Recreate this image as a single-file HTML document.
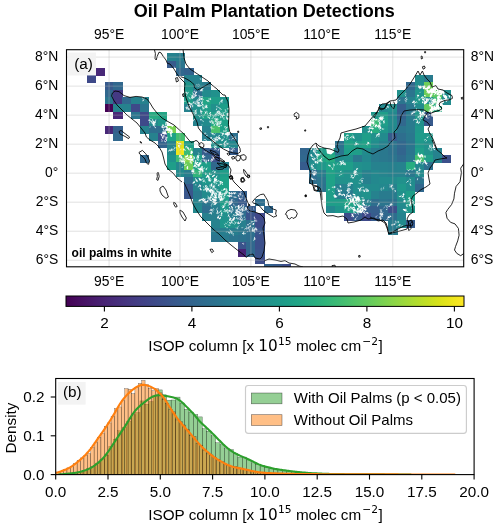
<!DOCTYPE html>
<html><head><meta charset="utf-8"><title>Oil Palm Plantation Detections</title>
<style>html,body{margin:0;padding:0;background:#fff}svg{display:block}</style></head>
<body>
<svg width="500" height="528" viewBox="0 0 500 528" font-family="Liberation Sans, sans-serif" font-size="13.89px" fill="#000">
<rect width="500" height="528" fill="#fff"/>
<text x="264.3" y="16.8" text-anchor="middle" font-weight="bold" font-size="18px">Oil Palm Plantation Detections</text>
<clipPath id="mc"><rect x="66.5" y="49.7" width="397.2" height="217.10000000000002"/></clipPath>
<g clip-path="url(#mc)">
<g shape-rendering="crispEdges">
<rect x="166.69" y="53.47" width="9.17" height="7.55" fill="#26828e"/>
<rect x="175.55" y="53.47" width="9.17" height="7.55" fill="#277e8e"/>
<rect x="166.69" y="60.73" width="9.17" height="7.56" fill="#375a8c"/>
<rect x="175.55" y="60.73" width="9.17" height="7.56" fill="#2b758e"/>
<rect x="95.76" y="67.98" width="9.17" height="7.55" fill="#482878"/>
<rect x="175.55" y="67.98" width="9.17" height="7.55" fill="#31688e"/>
<rect x="184.42" y="67.98" width="9.17" height="7.55" fill="#33628d"/>
<rect x="86.89" y="75.24" width="9.17" height="7.56" fill="#3e4989"/>
<rect x="184.42" y="75.24" width="9.17" height="7.56" fill="#26828e"/>
<rect x="193.28" y="75.24" width="9.17" height="7.56" fill="#26828e"/>
<rect x="414.94" y="75.24" width="9.17" height="7.56" fill="#228b8d"/>
<rect x="423.80" y="75.24" width="9.17" height="7.56" fill="#297b8e"/>
<rect x="104.62" y="82.49" width="9.17" height="7.55" fill="#375a8c"/>
<rect x="113.49" y="82.49" width="9.17" height="7.55" fill="#31688e"/>
<rect x="184.42" y="82.49" width="9.17" height="7.55" fill="#1f958b"/>
<rect x="193.28" y="82.49" width="9.17" height="7.55" fill="#26828e"/>
<rect x="202.15" y="82.49" width="9.17" height="7.55" fill="#297b8e"/>
<rect x="406.07" y="82.49" width="9.17" height="7.55" fill="#31688e"/>
<rect x="414.94" y="82.49" width="9.17" height="7.55" fill="#218e8d"/>
<rect x="423.80" y="82.49" width="9.17" height="7.55" fill="#6ece58"/>
<rect x="104.62" y="89.75" width="9.17" height="7.55" fill="#31688e"/>
<rect x="113.49" y="89.75" width="9.17" height="7.55" fill="#443983"/>
<rect x="184.42" y="89.75" width="9.17" height="7.55" fill="#1f9e89"/>
<rect x="193.28" y="89.75" width="9.17" height="7.55" fill="#2d708e"/>
<rect x="202.15" y="89.75" width="9.17" height="7.55" fill="#228b8d"/>
<rect x="211.02" y="89.75" width="9.17" height="7.55" fill="#21918c"/>
<rect x="397.20" y="89.75" width="9.17" height="7.55" fill="#21918c"/>
<rect x="406.07" y="89.75" width="9.17" height="7.55" fill="#2b758e"/>
<rect x="414.94" y="89.75" width="9.17" height="7.55" fill="#1f958b"/>
<rect x="423.80" y="89.75" width="9.17" height="7.55" fill="#6ece58"/>
<rect x="432.67" y="89.75" width="9.17" height="7.55" fill="#5ac864"/>
<rect x="441.53" y="89.75" width="9.17" height="7.55" fill="#218e8d"/>
<rect x="104.62" y="97.00" width="9.17" height="7.55" fill="#2b758e"/>
<rect x="113.49" y="97.00" width="9.17" height="7.55" fill="#443983"/>
<rect x="122.36" y="97.00" width="9.17" height="7.55" fill="#31688e"/>
<rect x="131.22" y="97.00" width="9.17" height="7.55" fill="#26828e"/>
<rect x="140.09" y="97.00" width="9.17" height="7.55" fill="#26828e"/>
<rect x="184.42" y="97.00" width="9.17" height="7.55" fill="#1f9e89"/>
<rect x="193.28" y="97.00" width="9.17" height="7.55" fill="#23888e"/>
<rect x="202.15" y="97.00" width="9.17" height="7.55" fill="#21a585"/>
<rect x="211.02" y="97.00" width="9.17" height="7.55" fill="#1f9e89"/>
<rect x="219.88" y="97.00" width="9.17" height="7.55" fill="#1f958b"/>
<rect x="397.20" y="97.00" width="9.17" height="7.55" fill="#2b758e"/>
<rect x="406.07" y="97.00" width="9.17" height="7.55" fill="#26828e"/>
<rect x="414.94" y="97.00" width="9.17" height="7.55" fill="#1f988b"/>
<rect x="423.80" y="97.00" width="9.17" height="7.55" fill="#21918c"/>
<rect x="432.67" y="97.00" width="9.17" height="7.55" fill="#3fbc73"/>
<rect x="441.53" y="97.00" width="9.17" height="7.55" fill="#228b8d"/>
<rect x="104.62" y="104.26" width="9.17" height="7.56" fill="#440154"/>
<rect x="113.49" y="104.26" width="9.17" height="7.56" fill="#26828e"/>
<rect x="122.36" y="104.26" width="9.17" height="7.56" fill="#26828e"/>
<rect x="131.22" y="104.26" width="9.17" height="7.56" fill="#3e4989"/>
<rect x="140.09" y="104.26" width="9.17" height="7.56" fill="#2b758e"/>
<rect x="184.42" y="104.26" width="9.17" height="7.56" fill="#26828e"/>
<rect x="193.28" y="104.26" width="9.17" height="7.56" fill="#21918c"/>
<rect x="202.15" y="104.26" width="9.17" height="7.56" fill="#1f9e89"/>
<rect x="211.02" y="104.26" width="9.17" height="7.56" fill="#21918c"/>
<rect x="219.88" y="104.26" width="9.17" height="7.56" fill="#1f9e89"/>
<rect x="379.47" y="104.26" width="9.17" height="7.56" fill="#23888e"/>
<rect x="388.34" y="104.26" width="9.17" height="7.56" fill="#218e8d"/>
<rect x="397.20" y="104.26" width="9.17" height="7.56" fill="#355f8d"/>
<rect x="406.07" y="104.26" width="9.17" height="7.56" fill="#2a788e"/>
<rect x="414.94" y="104.26" width="9.17" height="7.56" fill="#228b8d"/>
<rect x="423.80" y="104.26" width="9.17" height="7.56" fill="#60ca60"/>
<rect x="432.67" y="104.26" width="9.17" height="7.56" fill="#25ab82"/>
<rect x="113.49" y="111.51" width="9.17" height="7.55" fill="#482878"/>
<rect x="131.22" y="111.51" width="9.17" height="7.55" fill="#2b758e"/>
<rect x="140.09" y="111.51" width="9.17" height="7.55" fill="#3e4989"/>
<rect x="148.95" y="111.51" width="9.17" height="7.55" fill="#25ab82"/>
<rect x="157.82" y="111.51" width="9.17" height="7.55" fill="#21a585"/>
<rect x="193.28" y="111.51" width="9.17" height="7.55" fill="#21918c"/>
<rect x="202.15" y="111.51" width="9.17" height="7.55" fill="#1fa287"/>
<rect x="211.02" y="111.51" width="9.17" height="7.55" fill="#1f9e89"/>
<rect x="219.88" y="111.51" width="9.17" height="7.55" fill="#1f9e89"/>
<rect x="370.61" y="111.51" width="9.17" height="7.55" fill="#1f988b"/>
<rect x="379.47" y="111.51" width="9.17" height="7.55" fill="#1f9e89"/>
<rect x="388.34" y="111.51" width="9.17" height="7.55" fill="#23888e"/>
<rect x="397.20" y="111.51" width="9.17" height="7.55" fill="#33628d"/>
<rect x="406.07" y="111.51" width="9.17" height="7.55" fill="#297b8e"/>
<rect x="414.94" y="111.51" width="9.17" height="7.55" fill="#1f988b"/>
<rect x="423.80" y="111.51" width="9.17" height="7.55" fill="#375a8c"/>
<rect x="140.09" y="118.77" width="9.17" height="7.56" fill="#3e4989"/>
<rect x="148.95" y="118.77" width="9.17" height="7.56" fill="#228b8d"/>
<rect x="157.82" y="118.77" width="9.17" height="7.56" fill="#1f988b"/>
<rect x="193.28" y="118.77" width="9.17" height="7.56" fill="#26828e"/>
<rect x="202.15" y="118.77" width="9.17" height="7.56" fill="#228b8d"/>
<rect x="211.02" y="118.77" width="9.17" height="7.56" fill="#25ab82"/>
<rect x="219.88" y="118.77" width="9.17" height="7.56" fill="#1fa188"/>
<rect x="370.61" y="118.77" width="9.17" height="7.56" fill="#3aba76"/>
<rect x="379.47" y="118.77" width="9.17" height="7.56" fill="#1f9e89"/>
<rect x="388.34" y="118.77" width="9.17" height="7.56" fill="#228b8d"/>
<rect x="397.20" y="118.77" width="9.17" height="7.56" fill="#31688e"/>
<rect x="406.07" y="118.77" width="9.17" height="7.56" fill="#297b8e"/>
<rect x="414.94" y="118.77" width="9.17" height="7.56" fill="#21918c"/>
<rect x="423.80" y="118.77" width="9.17" height="7.56" fill="#375a8c"/>
<rect x="104.62" y="126.02" width="9.17" height="7.55" fill="#482878"/>
<rect x="113.49" y="126.02" width="9.17" height="7.55" fill="#355f8d"/>
<rect x="140.09" y="126.02" width="9.17" height="7.55" fill="#26828e"/>
<rect x="148.95" y="126.02" width="9.17" height="7.55" fill="#2e6e8e"/>
<rect x="157.82" y="126.02" width="9.17" height="7.55" fill="#2e6e8e"/>
<rect x="166.69" y="126.02" width="9.17" height="7.55" fill="#7ad151"/>
<rect x="202.15" y="126.02" width="9.17" height="7.55" fill="#26828e"/>
<rect x="211.02" y="126.02" width="9.17" height="7.55" fill="#4ac16d"/>
<rect x="219.88" y="126.02" width="9.17" height="7.55" fill="#1fa287"/>
<rect x="361.74" y="126.02" width="9.17" height="7.55" fill="#21918c"/>
<rect x="370.61" y="126.02" width="9.17" height="7.55" fill="#27ad81"/>
<rect x="379.47" y="126.02" width="9.17" height="7.55" fill="#1f988b"/>
<rect x="388.34" y="126.02" width="9.17" height="7.55" fill="#23888e"/>
<rect x="397.20" y="126.02" width="9.17" height="7.55" fill="#2b758e"/>
<rect x="406.07" y="126.02" width="9.17" height="7.55" fill="#297b8e"/>
<rect x="414.94" y="126.02" width="9.17" height="7.55" fill="#1f988b"/>
<rect x="113.49" y="133.28" width="9.17" height="7.55" fill="#31688e"/>
<rect x="148.95" y="133.28" width="9.17" height="7.55" fill="#26828e"/>
<rect x="157.82" y="133.28" width="9.17" height="7.55" fill="#3c508b"/>
<rect x="166.69" y="133.28" width="9.17" height="7.55" fill="#1fa287"/>
<rect x="175.55" y="133.28" width="9.17" height="7.55" fill="#44bf70"/>
<rect x="202.15" y="133.28" width="9.17" height="7.55" fill="#277e8e"/>
<rect x="211.02" y="133.28" width="9.17" height="7.55" fill="#23888e"/>
<rect x="219.88" y="133.28" width="9.17" height="7.55" fill="#21918c"/>
<rect x="228.75" y="133.28" width="9.17" height="7.55" fill="#2d708e"/>
<rect x="344.01" y="133.28" width="9.17" height="7.55" fill="#1f9e89"/>
<rect x="352.87" y="133.28" width="9.17" height="7.55" fill="#20928c"/>
<rect x="361.74" y="133.28" width="9.17" height="7.55" fill="#1f9e89"/>
<rect x="370.61" y="133.28" width="9.17" height="7.55" fill="#21918c"/>
<rect x="379.47" y="133.28" width="9.17" height="7.55" fill="#228b8d"/>
<rect x="388.34" y="133.28" width="9.17" height="7.55" fill="#365c8d"/>
<rect x="397.20" y="133.28" width="9.17" height="7.55" fill="#2e6e8e"/>
<rect x="406.07" y="133.28" width="9.17" height="7.55" fill="#2a788e"/>
<rect x="414.94" y="133.28" width="9.17" height="7.55" fill="#1e9b8a"/>
<rect x="423.80" y="133.28" width="9.17" height="7.55" fill="#1f988b"/>
<rect x="157.82" y="140.53" width="9.17" height="7.55" fill="#33628d"/>
<rect x="166.69" y="140.53" width="9.17" height="7.55" fill="#25858e"/>
<rect x="175.55" y="140.53" width="9.17" height="7.55" fill="#e2e418"/>
<rect x="184.42" y="140.53" width="9.17" height="7.55" fill="#1f9e89"/>
<rect x="211.02" y="140.53" width="9.17" height="7.55" fill="#21918c"/>
<rect x="219.88" y="140.53" width="9.17" height="7.55" fill="#21918c"/>
<rect x="228.75" y="140.53" width="9.17" height="7.55" fill="#23888e"/>
<rect x="335.14" y="140.53" width="9.17" height="7.55" fill="#2c728e"/>
<rect x="344.01" y="140.53" width="9.17" height="7.55" fill="#1fa287"/>
<rect x="352.87" y="140.53" width="9.17" height="7.55" fill="#1f9e89"/>
<rect x="361.74" y="140.53" width="9.17" height="7.55" fill="#1fa287"/>
<rect x="370.61" y="140.53" width="9.17" height="7.55" fill="#218e8d"/>
<rect x="379.47" y="140.53" width="9.17" height="7.55" fill="#26828e"/>
<rect x="388.34" y="140.53" width="9.17" height="7.55" fill="#2b758e"/>
<rect x="397.20" y="140.53" width="9.17" height="7.55" fill="#31688e"/>
<rect x="406.07" y="140.53" width="9.17" height="7.55" fill="#2b758e"/>
<rect x="414.94" y="140.53" width="9.17" height="7.55" fill="#1f988b"/>
<rect x="423.80" y="140.53" width="9.17" height="7.55" fill="#21918c"/>
<rect x="166.69" y="147.79" width="9.17" height="7.55" fill="#23888e"/>
<rect x="175.55" y="147.79" width="9.17" height="7.55" fill="#f1e51d"/>
<rect x="184.42" y="147.79" width="9.17" height="7.55" fill="#3aba76"/>
<rect x="193.28" y="147.79" width="9.17" height="7.55" fill="#26828e"/>
<rect x="202.15" y="147.79" width="9.17" height="7.55" fill="#365c8d"/>
<rect x="211.02" y="147.79" width="9.17" height="7.55" fill="#375a8c"/>
<rect x="228.75" y="147.79" width="9.17" height="7.55" fill="#365c8d"/>
<rect x="299.68" y="147.79" width="9.17" height="7.55" fill="#32658e"/>
<rect x="308.54" y="147.79" width="9.17" height="7.55" fill="#23888e"/>
<rect x="317.41" y="147.79" width="9.17" height="7.55" fill="#1f9e89"/>
<rect x="326.28" y="147.79" width="9.17" height="7.55" fill="#1fa287"/>
<rect x="335.14" y="147.79" width="9.17" height="7.55" fill="#2b758e"/>
<rect x="344.01" y="147.79" width="9.17" height="7.55" fill="#1f9e89"/>
<rect x="352.87" y="147.79" width="9.17" height="7.55" fill="#1f9e89"/>
<rect x="361.74" y="147.79" width="9.17" height="7.55" fill="#228b8d"/>
<rect x="370.61" y="147.79" width="9.17" height="7.55" fill="#297b8e"/>
<rect x="379.47" y="147.79" width="9.17" height="7.55" fill="#2a788e"/>
<rect x="388.34" y="147.79" width="9.17" height="7.55" fill="#2c728e"/>
<rect x="397.20" y="147.79" width="9.17" height="7.55" fill="#32658e"/>
<rect x="406.07" y="147.79" width="9.17" height="7.55" fill="#2b758e"/>
<rect x="414.94" y="147.79" width="9.17" height="7.55" fill="#1f9e89"/>
<rect x="423.80" y="147.79" width="9.17" height="7.55" fill="#20928c"/>
<rect x="432.67" y="147.79" width="9.17" height="7.55" fill="#26828e"/>
<rect x="140.09" y="155.04" width="9.17" height="7.56" fill="#31688e"/>
<rect x="166.69" y="155.04" width="9.17" height="7.56" fill="#20928c"/>
<rect x="175.55" y="155.04" width="9.17" height="7.56" fill="#3fbc73"/>
<rect x="184.42" y="155.04" width="9.17" height="7.56" fill="#89d548"/>
<rect x="193.28" y="155.04" width="9.17" height="7.56" fill="#1f9e89"/>
<rect x="202.15" y="155.04" width="9.17" height="7.56" fill="#31688e"/>
<rect x="211.02" y="155.04" width="9.17" height="7.56" fill="#3c508b"/>
<rect x="299.68" y="155.04" width="9.17" height="7.56" fill="#31688e"/>
<rect x="308.54" y="155.04" width="9.17" height="7.56" fill="#228b8d"/>
<rect x="317.41" y="155.04" width="9.17" height="7.56" fill="#21a585"/>
<rect x="326.28" y="155.04" width="9.17" height="7.56" fill="#25ab82"/>
<rect x="335.14" y="155.04" width="9.17" height="7.56" fill="#218e8d"/>
<rect x="344.01" y="155.04" width="9.17" height="7.56" fill="#21918c"/>
<rect x="352.87" y="155.04" width="9.17" height="7.56" fill="#2a788e"/>
<rect x="361.74" y="155.04" width="9.17" height="7.56" fill="#23888e"/>
<rect x="370.61" y="155.04" width="9.17" height="7.56" fill="#297b8e"/>
<rect x="379.47" y="155.04" width="9.17" height="7.56" fill="#2a788e"/>
<rect x="388.34" y="155.04" width="9.17" height="7.56" fill="#2b758e"/>
<rect x="397.20" y="155.04" width="9.17" height="7.56" fill="#2f6b8e"/>
<rect x="406.07" y="155.04" width="9.17" height="7.56" fill="#2a788e"/>
<rect x="414.94" y="155.04" width="9.17" height="7.56" fill="#44bf70"/>
<rect x="423.80" y="155.04" width="9.17" height="7.56" fill="#1f9e89"/>
<rect x="432.67" y="155.04" width="9.17" height="7.56" fill="#26828e"/>
<rect x="441.53" y="155.04" width="9.17" height="7.56" fill="#3c508b"/>
<rect x="166.69" y="162.30" width="9.17" height="7.55" fill="#1f9e89"/>
<rect x="175.55" y="162.30" width="9.17" height="7.55" fill="#23888e"/>
<rect x="184.42" y="162.30" width="9.17" height="7.55" fill="#6ece58"/>
<rect x="193.28" y="162.30" width="9.17" height="7.55" fill="#1fa287"/>
<rect x="202.15" y="162.30" width="9.17" height="7.55" fill="#1f9e89"/>
<rect x="211.02" y="162.30" width="9.17" height="7.55" fill="#31688e"/>
<rect x="219.88" y="162.30" width="9.17" height="7.55" fill="#26828e"/>
<rect x="299.68" y="162.30" width="9.17" height="7.55" fill="#365c8d"/>
<rect x="308.54" y="162.30" width="9.17" height="7.55" fill="#218e8d"/>
<rect x="317.41" y="162.30" width="9.17" height="7.55" fill="#1f988b"/>
<rect x="326.28" y="162.30" width="9.17" height="7.55" fill="#1fa287"/>
<rect x="335.14" y="162.30" width="9.17" height="7.55" fill="#1f9e89"/>
<rect x="344.01" y="162.30" width="9.17" height="7.55" fill="#1f9e89"/>
<rect x="352.87" y="162.30" width="9.17" height="7.55" fill="#21918c"/>
<rect x="361.74" y="162.30" width="9.17" height="7.55" fill="#218e8d"/>
<rect x="370.61" y="162.30" width="9.17" height="7.55" fill="#26828e"/>
<rect x="379.47" y="162.30" width="9.17" height="7.55" fill="#26828e"/>
<rect x="388.34" y="162.30" width="9.17" height="7.55" fill="#27808e"/>
<rect x="397.20" y="162.30" width="9.17" height="7.55" fill="#26828e"/>
<rect x="406.07" y="162.30" width="9.17" height="7.55" fill="#27ad81"/>
<rect x="414.94" y="162.30" width="9.17" height="7.55" fill="#23888e"/>
<rect x="423.80" y="162.30" width="9.17" height="7.55" fill="#2d708e"/>
<rect x="175.55" y="169.55" width="9.17" height="7.55" fill="#228b8d"/>
<rect x="184.42" y="169.55" width="9.17" height="7.55" fill="#277e8e"/>
<rect x="193.28" y="169.55" width="9.17" height="7.55" fill="#31b57b"/>
<rect x="202.15" y="169.55" width="9.17" height="7.55" fill="#1f9e89"/>
<rect x="211.02" y="169.55" width="9.17" height="7.55" fill="#21918c"/>
<rect x="219.88" y="169.55" width="9.17" height="7.55" fill="#1f9e89"/>
<rect x="308.54" y="169.55" width="9.17" height="7.55" fill="#2e6e8e"/>
<rect x="317.41" y="169.55" width="9.17" height="7.55" fill="#277e8e"/>
<rect x="326.28" y="169.55" width="9.17" height="7.55" fill="#1fa287"/>
<rect x="335.14" y="169.55" width="9.17" height="7.55" fill="#1f988b"/>
<rect x="344.01" y="169.55" width="9.17" height="7.55" fill="#20928c"/>
<rect x="352.87" y="169.55" width="9.17" height="7.55" fill="#21918c"/>
<rect x="361.74" y="169.55" width="9.17" height="7.55" fill="#26828e"/>
<rect x="370.61" y="169.55" width="9.17" height="7.55" fill="#23888e"/>
<rect x="379.47" y="169.55" width="9.17" height="7.55" fill="#25858e"/>
<rect x="388.34" y="169.55" width="9.17" height="7.55" fill="#26828e"/>
<rect x="397.20" y="169.55" width="9.17" height="7.55" fill="#26828e"/>
<rect x="406.07" y="169.55" width="9.17" height="7.55" fill="#2a788e"/>
<rect x="414.94" y="169.55" width="9.17" height="7.55" fill="#228b8d"/>
<rect x="184.42" y="176.81" width="9.17" height="7.55" fill="#2f6b8e"/>
<rect x="193.28" y="176.81" width="9.17" height="7.55" fill="#228b8d"/>
<rect x="202.15" y="176.81" width="9.17" height="7.55" fill="#1f988b"/>
<rect x="211.02" y="176.81" width="9.17" height="7.55" fill="#1f988b"/>
<rect x="219.88" y="176.81" width="9.17" height="7.55" fill="#1fa287"/>
<rect x="308.54" y="176.81" width="9.17" height="7.55" fill="#2e6e8e"/>
<rect x="317.41" y="176.81" width="9.17" height="7.55" fill="#2b758e"/>
<rect x="326.28" y="176.81" width="9.17" height="7.55" fill="#1fa287"/>
<rect x="335.14" y="176.81" width="9.17" height="7.55" fill="#21918c"/>
<rect x="344.01" y="176.81" width="9.17" height="7.55" fill="#20928c"/>
<rect x="352.87" y="176.81" width="9.17" height="7.55" fill="#21918c"/>
<rect x="361.74" y="176.81" width="9.17" height="7.55" fill="#27808e"/>
<rect x="370.61" y="176.81" width="9.17" height="7.55" fill="#23888e"/>
<rect x="379.47" y="176.81" width="9.17" height="7.55" fill="#228b8d"/>
<rect x="388.34" y="176.81" width="9.17" height="7.55" fill="#228b8d"/>
<rect x="397.20" y="176.81" width="9.17" height="7.55" fill="#21918c"/>
<rect x="406.07" y="176.81" width="9.17" height="7.55" fill="#228b8d"/>
<rect x="414.94" y="176.81" width="9.17" height="7.55" fill="#2b758e"/>
<rect x="184.42" y="184.06" width="9.17" height="7.55" fill="#375a8c"/>
<rect x="193.28" y="184.06" width="9.17" height="7.55" fill="#26828e"/>
<rect x="202.15" y="184.06" width="9.17" height="7.55" fill="#21918c"/>
<rect x="211.02" y="184.06" width="9.17" height="7.55" fill="#21918c"/>
<rect x="219.88" y="184.06" width="9.17" height="7.55" fill="#1fa287"/>
<rect x="317.41" y="184.06" width="9.17" height="7.55" fill="#2c728e"/>
<rect x="326.28" y="184.06" width="9.17" height="7.55" fill="#1fa188"/>
<rect x="335.14" y="184.06" width="9.17" height="7.55" fill="#27808e"/>
<rect x="344.01" y="184.06" width="9.17" height="7.55" fill="#26828e"/>
<rect x="352.87" y="184.06" width="9.17" height="7.55" fill="#218e8d"/>
<rect x="361.74" y="184.06" width="9.17" height="7.55" fill="#228b8d"/>
<rect x="370.61" y="184.06" width="9.17" height="7.55" fill="#228b8d"/>
<rect x="379.47" y="184.06" width="9.17" height="7.55" fill="#23888e"/>
<rect x="388.34" y="184.06" width="9.17" height="7.55" fill="#26828e"/>
<rect x="397.20" y="184.06" width="9.17" height="7.55" fill="#1f988b"/>
<rect x="406.07" y="184.06" width="9.17" height="7.55" fill="#218e8d"/>
<rect x="414.94" y="184.06" width="9.17" height="7.55" fill="#31688e"/>
<rect x="184.42" y="191.32" width="9.17" height="7.55" fill="#39568c"/>
<rect x="193.28" y="191.32" width="9.17" height="7.55" fill="#297b8e"/>
<rect x="202.15" y="191.32" width="9.17" height="7.55" fill="#228b8d"/>
<rect x="211.02" y="191.32" width="9.17" height="7.55" fill="#218e8d"/>
<rect x="219.88" y="191.32" width="9.17" height="7.55" fill="#1f9e89"/>
<rect x="228.75" y="191.32" width="9.17" height="7.55" fill="#2e6e8e"/>
<rect x="237.62" y="191.32" width="9.17" height="7.55" fill="#355f8d"/>
<rect x="326.28" y="191.32" width="9.17" height="7.55" fill="#1f9e89"/>
<rect x="335.14" y="191.32" width="9.17" height="7.55" fill="#27808e"/>
<rect x="344.01" y="191.32" width="9.17" height="7.55" fill="#297b8e"/>
<rect x="352.87" y="191.32" width="9.17" height="7.55" fill="#218e8d"/>
<rect x="361.74" y="191.32" width="9.17" height="7.55" fill="#20928c"/>
<rect x="370.61" y="191.32" width="9.17" height="7.55" fill="#26828e"/>
<rect x="379.47" y="191.32" width="9.17" height="7.55" fill="#297b8e"/>
<rect x="388.34" y="191.32" width="9.17" height="7.55" fill="#297b8e"/>
<rect x="397.20" y="191.32" width="9.17" height="7.55" fill="#21918c"/>
<rect x="406.07" y="191.32" width="9.17" height="7.55" fill="#1f9e89"/>
<rect x="193.28" y="198.57" width="9.17" height="7.55" fill="#25858e"/>
<rect x="202.15" y="198.57" width="9.17" height="7.55" fill="#2b758e"/>
<rect x="211.02" y="198.57" width="9.17" height="7.55" fill="#26828e"/>
<rect x="219.88" y="198.57" width="9.17" height="7.55" fill="#1f9e89"/>
<rect x="228.75" y="198.57" width="9.17" height="7.55" fill="#31688e"/>
<rect x="237.62" y="198.57" width="9.17" height="7.55" fill="#375a8c"/>
<rect x="255.35" y="198.57" width="9.17" height="7.55" fill="#2e6e8e"/>
<rect x="326.28" y="198.57" width="9.17" height="7.55" fill="#1f9e89"/>
<rect x="335.14" y="198.57" width="9.17" height="7.55" fill="#1f9e89"/>
<rect x="344.01" y="198.57" width="9.17" height="7.55" fill="#21a585"/>
<rect x="352.87" y="198.57" width="9.17" height="7.55" fill="#1f9e89"/>
<rect x="361.74" y="198.57" width="9.17" height="7.55" fill="#26828e"/>
<rect x="370.61" y="198.57" width="9.17" height="7.55" fill="#2e6e8e"/>
<rect x="379.47" y="198.57" width="9.17" height="7.55" fill="#2b758e"/>
<rect x="388.34" y="198.57" width="9.17" height="7.55" fill="#2c728e"/>
<rect x="397.20" y="198.57" width="9.17" height="7.55" fill="#228b8d"/>
<rect x="406.07" y="198.57" width="9.17" height="7.55" fill="#1f9e89"/>
<rect x="193.28" y="205.83" width="9.17" height="7.55" fill="#23888e"/>
<rect x="202.15" y="205.83" width="9.17" height="7.55" fill="#2e6e8e"/>
<rect x="211.02" y="205.83" width="9.17" height="7.55" fill="#277e8e"/>
<rect x="219.88" y="205.83" width="9.17" height="7.55" fill="#1f988b"/>
<rect x="228.75" y="205.83" width="9.17" height="7.55" fill="#2b758e"/>
<rect x="237.62" y="205.83" width="9.17" height="7.55" fill="#2f6b8e"/>
<rect x="246.48" y="205.83" width="9.17" height="7.55" fill="#365c8d"/>
<rect x="264.21" y="205.83" width="9.17" height="7.55" fill="#31688e"/>
<rect x="326.28" y="205.83" width="9.17" height="7.55" fill="#23888e"/>
<rect x="335.14" y="205.83" width="9.17" height="7.55" fill="#1f958b"/>
<rect x="344.01" y="205.83" width="9.17" height="7.55" fill="#1f9e89"/>
<rect x="352.87" y="205.83" width="9.17" height="7.55" fill="#1f988b"/>
<rect x="361.74" y="205.83" width="9.17" height="7.55" fill="#355f8d"/>
<rect x="370.61" y="205.83" width="9.17" height="7.55" fill="#355f8d"/>
<rect x="379.47" y="205.83" width="9.17" height="7.55" fill="#31688e"/>
<rect x="388.34" y="205.83" width="9.17" height="7.55" fill="#3c508b"/>
<rect x="397.20" y="205.83" width="9.17" height="7.55" fill="#23888e"/>
<rect x="406.07" y="205.83" width="9.17" height="7.55" fill="#1f988b"/>
<rect x="202.15" y="213.08" width="9.17" height="7.56" fill="#27808e"/>
<rect x="211.02" y="213.08" width="9.17" height="7.56" fill="#27808e"/>
<rect x="219.88" y="213.08" width="9.17" height="7.56" fill="#21918c"/>
<rect x="228.75" y="213.08" width="9.17" height="7.56" fill="#277e8e"/>
<rect x="237.62" y="213.08" width="9.17" height="7.56" fill="#2e6e8e"/>
<rect x="246.48" y="213.08" width="9.17" height="7.56" fill="#3a538b"/>
<rect x="255.35" y="213.08" width="9.17" height="7.56" fill="#3f4788"/>
<rect x="344.01" y="213.08" width="9.17" height="7.56" fill="#3d4d8a"/>
<rect x="352.87" y="213.08" width="9.17" height="7.56" fill="#365c8d"/>
<rect x="361.74" y="213.08" width="9.17" height="7.56" fill="#3e4989"/>
<rect x="370.61" y="213.08" width="9.17" height="7.56" fill="#365c8d"/>
<rect x="379.47" y="213.08" width="9.17" height="7.56" fill="#31688e"/>
<rect x="388.34" y="213.08" width="9.17" height="7.56" fill="#2e6e8e"/>
<rect x="397.20" y="213.08" width="9.17" height="7.56" fill="#26828e"/>
<rect x="211.02" y="220.34" width="9.17" height="7.55" fill="#26828e"/>
<rect x="219.88" y="220.34" width="9.17" height="7.55" fill="#1f958b"/>
<rect x="228.75" y="220.34" width="9.17" height="7.55" fill="#21918c"/>
<rect x="237.62" y="220.34" width="9.17" height="7.55" fill="#27808e"/>
<rect x="246.48" y="220.34" width="9.17" height="7.55" fill="#2c728e"/>
<rect x="255.35" y="220.34" width="9.17" height="7.55" fill="#3d4d8a"/>
<rect x="388.34" y="220.34" width="9.17" height="7.55" fill="#297b8e"/>
<rect x="397.20" y="220.34" width="9.17" height="7.55" fill="#228b8d"/>
<rect x="406.07" y="220.34" width="9.17" height="7.55" fill="#365c8d"/>
<rect x="211.02" y="227.59" width="9.17" height="7.55" fill="#297b8e"/>
<rect x="219.88" y="227.59" width="9.17" height="7.55" fill="#277e8e"/>
<rect x="228.75" y="227.59" width="9.17" height="7.55" fill="#277e8e"/>
<rect x="237.62" y="227.59" width="9.17" height="7.55" fill="#2a788e"/>
<rect x="246.48" y="227.59" width="9.17" height="7.55" fill="#2d708e"/>
<rect x="255.35" y="227.59" width="9.17" height="7.55" fill="#39568c"/>
<rect x="388.34" y="227.59" width="9.17" height="7.55" fill="#297b8e"/>
<rect x="211.02" y="234.85" width="9.17" height="7.55" fill="#2b758e"/>
<rect x="219.88" y="234.85" width="9.17" height="7.55" fill="#297b8e"/>
<rect x="228.75" y="234.85" width="9.17" height="7.55" fill="#2b758e"/>
<rect x="237.62" y="234.85" width="9.17" height="7.55" fill="#2c728e"/>
<rect x="246.48" y="234.85" width="9.17" height="7.55" fill="#2e6e8e"/>
<rect x="255.35" y="234.85" width="9.17" height="7.55" fill="#3c508b"/>
<rect x="237.62" y="242.10" width="9.17" height="7.55" fill="#3a538b"/>
<rect x="246.48" y="242.10" width="9.17" height="7.55" fill="#31688e"/>
<rect x="255.35" y="242.10" width="9.17" height="7.55" fill="#3c508b"/>
<rect x="237.62" y="249.36" width="9.17" height="7.56" fill="#482475"/>
<rect x="246.48" y="249.36" width="9.17" height="7.56" fill="#31688e"/>
<rect x="255.35" y="249.36" width="9.17" height="7.56" fill="#3a538b"/>
<rect x="255.35" y="256.61" width="9.17" height="7.55" fill="#3d4d8a"/>
<rect x="264.21" y="263.87" width="9.17" height="7.55" fill="#33628d"/>
<rect x="273.08" y="263.87" width="9.17" height="7.55" fill="#375a8c"/>
<rect x="281.95" y="263.87" width="9.17" height="7.55" fill="#3d4d8a"/>
</g>
<path d="M144.1 99.2L144.5 98.7L144.7 98.6M142.0 97.3L141.9 97.0L141.5 96.3M143.0 99.2L142.8 98.8M142.8 101.0L143.1 100.8L143.5 100.0L143.8 99.9M149.0 120.5L149.3 120.1M150.3 118.5L149.8 118.2M149.7 123.0L149.5 122.2M166.6 138.0L166.6 137.6L166.0 136.7M165.3 139.1L165.6 139.1L166.7 139.0L166.7 138.2M166.2 138.1L165.8 138.4L166.0 138.8L166.5 139.4M165.1 137.4L166.3 137.4M165.1 131.7L165.4 132.1L164.7 131.8M166.7 126.3L165.4 126.5L164.2 126.2M171.0 133.7L171.0 135.0M178.9 157.0L179.5 156.6L180.1 156.8L179.4 157.5M184.1 163.5L184.5 163.1M196.9 158.4L196.5 157.5M189.8 150.4L189.2 149.3M198.4 156.4L197.3 156.6L197.3 156.3L197.4 155.9M198.8 154.3L199.2 153.8L198.7 153.3L198.5 152.9M203.0 156.2L204.2 156.7L203.9 157.1L203.8 157.6M199.4 165.0L198.2 165.5L197.9 164.7L196.8 164.8M195.7 167.4L196.7 166.8L196.3 166.1M188.8 159.8L189.4 159.6L189.8 160.3L190.2 160.9M184.8 160.2L184.9 160.3L185.0 160.0L185.2 160.2M181.0 161.0L181.6 160.9L182.0 160.8M189.9 157.7L188.9 157.5M192.7 159.2L192.6 160.1M202.4 169.6L202.3 170.9L202.5 171.9M206.3 162.7L206.2 163.2L206.4 163.8M206.0 189.8L206.9 189.4L206.9 189.8M203.5 186.5L203.9 187.3L204.5 188.0M208.7 191.6L209.7 191.0M201.1 172.0L200.7 172.4L199.9 173.3L199.5 173.8M202.7 181.4L203.0 181.7L203.5 181.7M214.7 158.1L213.7 157.8L213.1 157.0L212.0 156.4M213.7 158.8L213.9 159.8M195.8 184.9L195.7 184.8L195.4 185.0M195.8 184.7L195.6 184.9M201.3 161.9L201.0 161.8L200.6 160.6L201.1 160.0M210.2 180.3L209.5 181.0L208.7 180.9M212.0 193.9L212.2 193.7L212.6 193.0M226.0 189.3L226.7 190.1L227.0 190.4M224.1 188.6L223.9 189.0M225.2 189.0L226.2 188.7L226.5 188.7L227.1 189.2M224.0 197.3L224.7 197.2L224.7 197.8L224.7 198.3M207.0 188.8L206.8 188.7M226.2 193.5L226.5 193.5L227.2 193.0L227.6 192.0M208.6 198.3L208.3 197.9L207.2 198.3M208.1 200.5L207.5 200.6M208.4 197.0L207.9 196.0M218.9 184.8L219.0 185.0L218.8 185.0L218.4 184.8M236.0 193.6L236.1 193.4L235.7 193.0L235.0 193.2M242.8 210.1L243.3 209.8M217.2 197.9L216.9 197.8M213.5 198.6L214.0 199.5M212.2 195.5L212.2 195.7M213.0 196.2L213.7 196.7L214.0 196.9L213.5 197.9M238.7 223.6L238.5 223.2L238.6 222.7L238.5 222.4M237.5 223.2L237.1 222.8L237.2 222.6L238.0 222.4M221.9 206.4L222.1 206.2L222.5 205.6M229.8 225.7L229.9 225.4L230.0 225.0M217.7 212.5L217.7 212.7L218.1 213.3M226.0 201.5L226.1 201.6L226.5 201.3L227.2 202.0M241.8 214.2L242.6 214.7L242.9 214.0M220.8 216.0L220.4 215.4L219.9 215.1M219.1 215.4L218.5 216.0L218.3 216.3M231.4 218.6L231.1 218.6M229.5 219.8L230.2 219.5L230.2 219.3L229.5 219.4M215.1 177.7L214.9 178.5M215.5 179.8L215.4 179.4L215.0 178.7M230.1 193.3L230.8 194.1L231.6 194.3L231.9 194.6M214.2 203.0L213.4 202.0L214.1 201.7L213.7 201.1M211.1 186.7L210.2 187.5L209.9 186.2L210.0 184.9M216.1 188.4L215.3 189.2L214.5 190.2M212.7 188.0L212.6 188.2L212.5 189.2M212.9 203.2L212.5 202.9L211.9 203.9L211.6 204.4M233.3 210.2L233.0 209.3L231.9 209.1M229.2 203.2L229.3 203.5M229.0 205.2L228.1 205.4M229.0 202.0L229.6 201.7M234.1 205.7L234.0 205.0L233.9 204.4L233.3 204.2M230.3 203.4L231.1 203.4L231.3 203.4L231.5 202.3M230.6 210.6L231.0 211.1L231.5 212.1M238.9 193.9L240.0 194.0L240.2 194.8M227.6 211.8L227.2 211.3M228.2 214.5L228.5 214.6L228.8 214.5L229.2 214.3M217.3 212.7L217.0 213.0L216.6 213.5L216.8 212.9M239.6 208.0L239.8 207.1L240.0 206.5M236.7 206.3L236.7 206.7L236.3 206.9L235.7 207.4M240.1 194.4L241.2 194.6L241.4 194.9L240.9 195.4M252.8 231.3L252.4 230.9L251.8 230.1M252.9 229.7L252.7 230.1L252.6 230.3M253.2 230.6L253.8 230.6L254.2 229.8L255.1 229.4M255.4 229.0L255.9 228.2L256.4 228.0L256.4 228.6M245.2 210.1L245.5 210.0L246.5 210.0M245.2 210.0L245.4 209.7L246.0 209.1L246.0 208.5M244.3 209.9L244.2 210.9L243.5 210.8L243.3 209.9M249.6 223.5L249.1 223.7L249.0 223.9M240.5 212.1L240.7 212.9L240.3 213.1L239.7 213.2M239.3 210.7L239.2 210.4M247.5 225.2L248.0 224.4M250.3 223.5L249.8 223.6M247.1 231.9L247.9 231.4M245.5 233.3L245.3 233.7M235.5 206.2L235.3 207.1L235.6 207.9M248.7 226.9L249.1 227.0M246.1 226.5L246.8 227.0L246.6 227.4L247.1 227.8M249.5 231.3L249.7 230.4L248.9 229.9M252.7 229.4L252.9 229.3M242.5 209.6L242.3 209.9L242.3 210.1L242.3 210.4M239.3 205.1L238.9 205.8L238.9 206.0M240.3 209.1L239.6 209.1M238.9 219.1L238.8 218.9L238.5 219.0M239.7 215.4L240.1 215.0L239.4 214.4L239.3 213.7M236.4 228.1L236.0 228.0M241.7 227.8L242.2 228.1L242.6 227.6L242.8 227.3M247.5 211.7L248.1 211.7L248.5 212.4M242.1 198.6L242.1 198.2L242.1 197.9M240.3 199.1L240.8 199.3L241.1 199.8L241.1 199.9M241.2 198.8L241.1 198.9M240.9 198.4L240.2 198.5L239.2 198.5L239.0 198.4M237.3 217.2L237.4 217.1M242.5 243.5L242.3 243.3M242.8 243.4L243.7 243.2L243.7 243.6L243.6 244.4M254.9 238.8L254.1 238.7L254.4 239.3L254.0 240.0M254.7 239.5L254.5 239.1L254.4 238.6L254.5 237.7M255.2 239.0L255.1 238.7L254.6 238.7L254.5 238.9M253.9 209.3L253.5 209.1M253.8 208.2L253.5 208.0M252.6 211.1L253.1 211.6M236.6 217.7L236.2 218.0L236.0 218.3M254.7 220.4L254.4 220.4M255.2 220.3L255.3 221.1L255.7 221.3M254.5 221.7L255.0 221.4L255.0 220.7M256.5 220.1L256.7 220.7L256.7 221.5M240.9 206.6L240.4 207.4M241.8 204.5L242.4 204.8L243.0 205.1M235.2 222.8L235.0 222.4L234.6 221.6M238.3 223.2L238.5 223.2L238.7 223.3M227.0 231.8L226.4 232.1L226.2 232.1M228.2 231.9L228.5 232.7L229.1 232.5M231.4 231.9L231.7 231.8L231.5 231.3L231.1 231.2M229.4 232.3L228.8 232.2M245.8 208.8L246.4 208.9L246.4 208.4L246.2 208.6M245.1 208.0L245.3 208.2L245.7 207.9L246.0 207.9M247.8 209.4L247.7 209.3M244.3 208.5L243.6 207.9L243.5 207.7M240.7 220.1L240.8 219.2L241.2 219.3M240.3 218.9L240.1 218.1L239.6 217.4M241.1 217.2L240.3 217.0M241.1 219.4L240.7 219.1M239.7 219.3L239.6 219.1M244.0 217.6L244.4 217.8L244.4 216.9M243.0 219.2L242.4 219.8L242.9 220.6M241.4 220.7L241.5 220.5L241.3 220.0L241.2 219.9M242.3 218.9L242.5 218.5M232.5 233.3L233.4 233.6M231.9 232.9L232.1 232.8L232.2 232.3M233.4 234.0L233.3 234.3L232.7 235.0L233.4 235.5M231.3 233.6L231.6 233.4M231.6 232.3L231.9 231.6L231.9 231.4M226.0 209.9L225.5 210.6L225.3 211.0L224.7 211.3M225.2 209.0L225.0 209.4L224.2 209.8M226.5 210.7L226.1 210.8L225.7 210.9M230.7 203.6L230.5 204.0L230.7 204.2M230.8 204.0L231.3 203.6L231.2 203.0M231.5 202.2L232.2 201.9M230.5 203.8L230.9 203.1L231.0 202.3L230.9 201.6M220.7 198.8L220.2 198.6L219.8 199.1M221.0 199.7L221.4 200.3L220.6 200.4M219.3 199.4L219.0 199.2M233.7 200.1L233.9 200.3M232.1 200.0L231.3 199.7L231.1 199.5M227.8 202.4L228.2 202.4L228.5 202.1L229.1 201.9M227.6 201.7L227.1 201.6L226.8 201.0L226.2 201.2M230.6 201.4L230.4 200.9M227.1 200.8L226.9 201.0M229.3 202.0L229.7 201.9L230.0 202.3M224.9 192.9L225.1 193.4L225.9 193.0M225.1 194.8L224.6 194.0L224.7 193.8M220.3 183.3L220.3 183.1L220.4 182.7M221.5 181.9L221.8 182.3M220.9 183.7L220.4 184.3M220.3 182.4L220.0 182.9M211.0 209.3L211.8 209.4L212.2 209.4M209.9 213.7L209.3 213.0L209.1 213.1M211.6 213.2L211.2 213.1L211.4 212.3M212.5 211.2L212.0 210.5M212.9 212.2L212.6 211.8M226.1 189.5L226.4 189.2M225.6 191.6L225.2 192.3L225.6 192.8L226.2 192.9M226.5 191.2L227.2 191.5L227.7 192.0M226.2 190.3L226.6 190.2M226.7 189.9L226.8 190.8L226.5 191.0L226.5 191.1M226.3 191.0L226.0 191.2M217.8 189.7L217.8 189.5L217.7 189.4M217.1 190.4L216.8 190.9L217.1 191.3L218.0 191.4M213.9 184.2L214.6 183.7M213.6 208.4L213.2 208.7M212.6 209.9L213.4 210.0L213.7 210.0L214.0 209.8M210.5 210.7L210.5 210.9L210.3 211.0L209.8 210.5M211.6 205.0L211.2 205.6L211.4 206.0L211.4 206.2M213.3 204.9L213.2 204.4M228.3 225.1L228.8 225.1L229.6 225.2M224.9 225.0L224.8 224.7L224.2 224.2M228.0 221.5L227.6 222.3M212.6 192.6L213.3 192.4L213.5 192.3L214.2 192.0M211.6 193.4L211.6 193.7L211.5 194.1M210.7 192.3L210.9 192.4L211.2 192.4M211.5 195.7L212.0 195.9L212.5 196.4L213.2 196.3M211.5 197.5L211.5 197.3L212.0 197.5M173.8 149.2L173.8 150.1L174.0 150.2L174.6 150.8M174.5 147.5L174.0 146.7M171.8 149.6L172.2 149.9L172.4 150.3M170.0 149.7L169.9 149.2M171.0 149.8L171.1 149.7L171.6 149.6L172.4 149.3M170.4 150.7L170.8 150.6L170.8 150.2L169.8 150.1M202.8 106.7L202.2 106.8L202.4 106.9M193.3 94.9L193.5 95.0L194.0 94.9M186.6 92.0L185.8 92.6M186.0 92.4L186.2 93.3M192.3 103.5L191.7 103.9M191.3 104.1L190.7 103.4M198.3 86.5L198.1 86.6M198.7 84.3L199.0 84.4L199.4 84.8L199.4 85.2M198.8 104.7L198.6 104.8L198.4 105.7L197.7 105.9M198.8 102.7L198.9 102.9M195.4 102.3L196.3 102.1M196.8 102.9L197.1 103.1L197.4 103.3M194.2 102.0L194.4 102.3L194.6 102.1M195.5 110.8L195.6 111.0L195.5 111.4L195.2 112.0M193.6 112.8L194.3 112.8L194.4 112.0M196.6 92.0L196.4 92.0M196.8 92.0L196.0 92.1L195.6 92.0L195.2 92.0M199.4 102.8L198.4 102.8L199.4 102.8M203.1 107.9L203.2 108.6L203.0 109.1M188.5 109.1L189.0 108.3L189.8 108.1L190.3 108.7M189.3 107.6L189.4 106.9L189.0 106.5L189.3 105.7M187.1 109.6L186.8 109.1L186.4 108.8M187.6 108.0L187.3 108.1L186.8 107.5L186.7 106.9M187.8 107.6L188.0 108.1L188.1 108.3L188.6 108.8M188.8 108.6L189.3 109.0L189.0 109.5M187.2 108.7L186.9 108.2L187.0 107.9M198.8 98.3L198.9 98.1L199.2 97.7L199.5 97.3M188.0 93.0L188.3 92.3L188.4 92.3L188.6 92.3M186.8 94.4L187.3 94.9L186.6 95.3L186.4 95.6M194.7 113.7L195.3 113.1L195.8 113.1M194.6 114.4L193.8 113.9L193.5 113.9M185.4 101.3L185.2 101.0L184.8 100.9L184.5 101.5M190.6 94.8L190.9 95.1M193.7 93.5L193.5 94.2M195.2 92.3L194.6 91.6L194.4 91.1L194.4 90.8M195.4 94.2L194.7 94.7L193.8 94.8L193.3 95.1M202.0 89.9L201.6 90.4L201.3 90.6M202.8 90.9L202.2 90.9L201.4 90.8M202.0 89.8L202.3 90.5L202.4 90.6M195.7 95.8L194.9 95.7L195.0 96.0M192.3 104.8L192.9 105.1L193.0 105.3M191.3 103.6L190.6 103.4L190.0 102.9L189.8 102.8M189.3 102.5L189.3 102.8M191.7 105.0L191.1 104.4M201.7 99.0L201.8 98.8L202.1 98.2L202.7 98.2M199.6 105.4L199.7 105.8L199.7 106.1L200.0 106.5M198.7 103.3L199.4 103.3L199.3 103.5L199.2 103.7M208.2 101.1L208.7 101.2L209.2 101.5M200.5 97.9L200.0 97.9L199.6 97.8M205.5 107.6L205.1 107.1M205.0 106.7L205.0 106.0L205.4 105.2L206.0 104.9M206.6 107.1L206.7 108.0M205.9 111.3L206.5 111.3L206.9 111.0L207.2 111.3M204.3 113.9L204.3 114.3M207.2 113.2L207.2 113.8L207.4 114.3M197.4 100.0L196.7 100.6L196.4 101.2L196.0 101.7M227.8 127.0L227.1 127.5L226.8 127.6L226.0 127.3M225.5 128.5L225.8 128.5M226.9 127.1L226.7 127.7M213.2 123.2L213.9 123.6M212.6 122.4L212.9 122.5L213.5 121.8L213.9 121.8M215.9 113.5L215.7 113.2M217.5 114.2L217.8 115.2L218.1 115.6L218.7 115.5M218.9 123.7L218.1 124.2M218.0 126.0L218.5 126.0L219.5 125.9L219.8 125.9M215.7 139.5L215.5 139.5L214.9 139.9L214.8 140.0M212.6 140.4L211.9 140.4M224.4 137.6L224.1 137.9M224.3 136.4L223.6 136.8L223.7 136.9M219.7 107.9L219.1 108.0L219.0 107.8M217.1 106.2L216.5 106.2L216.6 106.8M213.0 117.4L213.6 117.3M214.0 122.1L213.6 122.3M202.1 124.9L201.9 124.9M218.0 113.1L217.9 112.8M218.4 110.9L218.4 111.2M212.9 134.0L212.7 133.8M214.6 154.6L214.1 154.0L214.5 153.7M211.5 121.1L212.4 121.6L212.9 121.7M212.1 120.3L211.8 121.2L212.0 121.7L212.1 122.1M212.9 122.9L213.2 123.9M205.6 152.1L204.9 151.9L204.1 151.6L204.1 151.3M210.4 99.1L210.5 98.2M210.5 98.9L210.7 99.7M219.1 138.3L219.7 138.6L218.9 138.3L218.6 138.8M218.5 137.8L218.8 138.0L218.8 138.1M218.0 140.2L217.8 139.9L216.9 139.8M219.4 144.5L219.1 145.4L219.3 145.8M219.7 148.1L220.4 147.9L220.4 147.7M218.0 124.0L217.7 123.1M211.9 118.5L212.6 118.4L212.7 118.3L213.0 118.2M216.1 123.1L215.4 123.6L215.2 123.7L214.6 124.3M223.8 119.3L223.7 119.0L223.8 118.7L223.7 118.4M224.0 117.4L223.9 117.8L223.5 118.2L224.2 118.8M222.7 112.0L223.2 112.6M220.6 113.7L220.3 113.8L219.7 114.0L220.2 114.7M221.4 113.7L222.0 113.9L222.5 114.0L221.8 113.5M211.3 120.8L212.1 121.1M210.9 121.2L210.0 121.2L209.6 121.1M216.8 140.9L216.1 140.2L215.5 139.7L215.5 139.5M214.3 141.6L213.6 142.2M214.7 140.8L214.1 140.5L213.5 141.0L212.9 141.1M201.1 112.0L201.7 111.4M201.5 111.3L200.8 110.6L200.6 110.6L200.5 109.7M200.6 111.3L200.9 110.4M201.1 111.1L201.1 111.0M206.1 133.4L205.3 132.9L205.4 133.1L204.4 133.3M205.0 133.9L205.1 133.7L205.4 133.5M204.7 134.6L204.8 134.3M232.9 149.0L233.7 149.2L234.2 149.2L234.6 149.9M232.6 150.5L232.8 150.6L232.5 151.1M214.2 146.4L214.6 145.5L215.0 146.1M211.9 146.5L211.4 147.2L211.0 147.2M208.4 116.9L208.3 117.0L207.9 117.2M210.6 116.1L210.2 115.7L210.0 114.9L210.3 114.6M209.5 117.4L209.6 117.5L209.5 118.4L209.9 119.0M215.5 119.0L216.3 119.0L216.7 119.0M215.8 118.8L215.8 119.0L215.9 118.9M215.8 119.8L215.5 120.4L215.7 120.8L214.9 120.2M216.3 119.7L216.6 120.2L217.2 120.8M221.7 101.3L221.8 101.3L221.9 100.4L221.6 100.2M228.0 133.7L227.9 133.1L227.9 132.9L226.9 132.7M221.8 133.3L222.1 133.3M222.6 133.3L222.1 133.5L221.9 133.9L222.7 134.1M224.4 143.6L224.3 144.3L224.2 144.7L224.2 145.2M218.5 122.3L218.4 121.5L218.7 121.3L219.1 121.4M218.1 123.5L217.2 123.6L217.1 124.1M210.9 114.5L210.8 114.1L210.4 113.3L210.6 112.6M210.5 116.4L210.0 116.0L210.5 115.3L210.7 114.7M208.3 115.4L208.3 115.5L208.5 115.8L209.2 115.7M212.5 115.1L212.8 115.2L213.3 116.1L213.2 116.8M210.8 114.9L210.9 114.6L210.6 114.6M229.1 135.1L228.8 135.4M227.1 143.0L226.7 142.8L226.3 143.4M229.8 139.4L229.0 139.5M201.7 120.1L202.5 120.7L203.4 121.0L203.3 121.6M202.7 117.0L203.4 117.5L203.6 117.6M200.7 116.1L201.2 115.8L201.8 115.5L202.1 115.3M203.3 116.3L203.8 115.6L204.2 115.1M218.5 136.3L219.0 136.8M231.7 139.9L231.7 139.6M228.6 142.9L228.1 143.4L227.9 143.8M212.1 128.1L212.7 128.4L213.5 129.0L213.8 128.6M211.4 128.3L211.6 129.2M221.8 140.8L222.1 140.7L222.2 140.3L222.3 139.6M222.0 140.1L222.1 140.4L222.2 140.6L221.4 140.3M235.1 136.9L235.4 137.0L235.7 136.6M231.7 147.4L231.8 147.7M227.0 137.8L226.8 138.3M226.1 117.1L226.3 117.3L226.6 117.8M226.4 117.9L226.9 117.7L227.0 117.5L226.7 117.2M226.3 116.9L226.5 116.8L226.7 117.0M224.0 112.8L224.3 112.2M224.9 112.3L225.4 112.1L226.2 111.6M225.6 131.2L225.9 130.7M224.0 130.5L224.4 131.0L224.2 131.3M225.8 111.4L226.0 110.9L225.7 110.9L225.2 110.2M228.1 108.7L228.6 108.9L228.7 108.2M225.5 109.7L225.2 109.7M228.2 113.9L228.5 114.1L228.8 113.8L229.6 113.4M174.3 67.0L174.4 67.0L174.7 67.6M319.0 159.8L319.1 159.5M315.1 150.2L314.4 150.9L314.4 151.2L313.2 151.2M315.2 148.7L315.9 149.1L316.1 149.6M323.0 157.5L323.3 157.6M315.1 151.7L315.8 151.4L316.6 151.3L317.1 151.3M314.3 159.1L314.0 159.2M311.9 148.9L312.4 148.7M346.2 140.1L345.8 139.4M346.9 137.1L346.7 136.9M346.2 138.6L346.1 138.5L345.6 138.3M344.0 136.6L343.4 137.4M347.0 134.9L346.8 135.1L347.4 135.4L348.1 134.7M350.5 137.5L350.8 137.8L351.0 138.0M352.8 135.0L353.0 135.5L352.7 136.5M383.4 121.7L384.0 121.9M371.4 125.0L371.4 124.6L371.5 124.3M372.0 126.7L372.9 126.6L373.3 126.8L372.6 127.5M381.9 116.8L382.9 116.5L383.1 116.3L383.7 116.8M361.5 178.7L362.5 178.3L363.3 178.5M360.3 179.6L359.9 179.9L359.7 180.3M358.9 183.1L359.9 183.4L360.5 183.6M333.2 168.8L332.4 168.4L331.9 167.7L331.5 167.7M333.3 167.4L333.6 166.7M342.4 162.0L341.8 161.6M339.2 164.7L339.4 164.6L339.8 164.7L340.7 165.0M352.1 177.4L351.5 177.4L350.7 177.3M354.6 173.4L355.2 174.3L354.8 174.5L354.5 174.2M358.0 174.9L357.7 174.5L357.0 174.3L356.8 174.2M355.9 174.9L356.5 174.6M354.7 176.8L354.2 175.9L354.7 175.0M354.9 174.5L355.3 174.1L356.2 174.1M342.1 163.5L341.5 163.9L341.3 163.8M341.9 174.3L340.9 174.7L339.8 175.0L339.3 175.7M316.0 173.2L316.0 173.9L315.6 174.4L316.1 174.6M315.9 171.8L315.0 172.4L314.7 173.1L314.1 172.9M315.9 171.6L315.4 171.4L315.1 171.3M311.6 165.0L312.0 164.2M357.6 143.6L357.8 144.2L358.2 144.2L358.8 144.1M356.6 144.6L356.6 144.3L356.7 143.5M355.4 143.0L356.2 143.6L356.6 144.1M339.9 195.0L340.5 194.1M334.6 186.9L334.6 187.7L335.1 187.4M354.6 219.4L354.9 219.6L355.9 219.5M356.4 217.3L357.4 216.7M364.3 191.0L364.0 191.2L364.1 191.4M363.1 186.7L363.1 186.9L363.4 187.5L363.7 187.6M351.9 214.2L352.5 214.4M356.6 210.5L356.6 210.2M347.8 202.1L348.2 201.0L348.0 200.6L347.1 199.9M335.0 196.6L335.0 195.8L334.8 195.7L333.7 195.6M360.4 188.1L360.4 188.6L359.5 188.9M340.9 191.4L340.7 191.2L339.7 190.7L339.8 190.2M338.1 189.3L338.3 188.9L337.2 188.7L337.0 189.1M359.6 201.4L359.5 200.9M362.0 209.2L362.9 210.2M355.1 196.6L355.2 195.4L355.0 195.3L354.3 195.0M357.8 199.7L357.0 199.6M352.0 200.8L352.4 200.5L352.7 199.6M353.7 209.9L353.2 209.9M353.4 211.0L354.1 211.2L354.2 212.3M364.4 205.2L364.4 205.4L364.1 205.6M359.2 209.4L359.9 209.6L361.0 209.7M351.3 208.8L351.7 208.9L352.1 208.8L352.8 208.9M366.5 205.2L366.7 205.9L367.0 206.8L366.8 207.7M365.4 205.7L365.0 205.0L363.9 204.7L363.1 205.3M381.8 213.9L381.7 213.5L380.8 213.2L380.4 213.1M382.5 212.0L382.9 212.5M381.7 213.1L382.1 213.7L382.4 214.6L381.7 215.2M377.6 205.8L377.7 205.7M380.9 213.9L380.2 213.5L379.8 214.0M379.7 213.8L379.8 213.5L380.2 213.3L380.8 212.9M380.5 219.6L380.9 218.9L381.4 218.0M380.8 219.4L380.6 219.9M425.3 97.5L425.9 98.4L426.9 98.7M419.0 98.9L419.3 99.3L418.9 99.7M405.3 93.2L406.2 93.7M405.0 94.5L405.3 94.8L405.6 95.8L405.9 95.9M420.0 92.6L420.1 92.3L420.3 92.1M417.7 96.4L417.7 97.0L417.1 97.5L416.9 97.9M414.5 103.7L414.8 102.7M380.7 130.3L380.0 130.9M379.1 135.2L379.2 134.9L378.9 134.1M380.0 126.7L378.9 126.9L378.8 127.1M378.4 133.4L378.8 133.9L378.8 134.3L378.9 134.7M377.8 126.2L378.4 125.8M381.1 128.8L380.5 127.9L380.3 128.0L380.3 128.6M379.7 123.9L380.7 124.0L381.1 123.9M427.1 118.0L427.9 118.2L428.5 118.1L429.1 117.8M416.8 119.8L416.8 119.1M419.0 118.9L419.6 118.0M397.5 101.3L397.4 101.7L397.4 102.6M420.5 155.8L419.9 156.9M419.8 173.8L419.1 173.7L418.4 173.8L417.7 173.9M418.1 174.6L419.0 175.3L419.3 175.7L418.6 175.1M419.1 168.1L419.7 167.9M418.8 170.3L419.7 170.9M412.0 170.6L412.3 169.8L412.5 169.7L412.9 169.6M406.8 172.7L406.7 173.1L405.7 173.5L405.8 174.6M422.4 164.2L422.7 163.3M421.7 161.6L421.0 162.4L420.2 162.9L420.7 163.5M406.8 206.3L407.0 205.4L407.3 204.5L408.4 204.4M410.6 200.3L410.8 200.4M406.5 209.6L405.8 210.2L405.8 211.4M405.7 209.1L405.1 209.7L404.7 209.9M402.7 196.6L402.9 196.3M403.5 198.5L403.7 198.0L404.4 198.5L404.5 199.0M403.5 200.8L403.7 201.6L404.1 200.8M367.1 189.2L366.2 189.2L366.2 189.0M392.4 188.0L391.8 188.7L391.9 188.9L392.0 188.9M392.3 188.7L392.7 188.6L393.2 188.7M392.4 189.6L393.2 189.3L393.9 188.5M392.2 184.8L391.4 185.1L390.5 185.1L389.6 184.9M390.7 186.4L390.4 187.0L389.6 186.9M383.1 189.1L383.8 188.6L383.5 187.7L383.8 187.1M381.1 189.5L381.3 190.2M381.7 188.3L381.6 188.1L381.0 188.4M396.8 221.9L397.1 221.9L398.2 222.1M396.3 222.7L396.2 222.7L395.3 222.1L395.4 221.1M387.2 207.1L387.4 207.5L386.8 207.6M384.5 207.2L383.8 207.8M387.9 205.6L388.6 206.5M382.9 213.2L382.3 213.7L382.1 213.7M380.4 213.9L381.1 213.9L380.9 214.3L380.6 214.6M380.8 211.2L380.7 210.4L380.3 209.4M381.3 211.4L381.2 211.9L381.7 212.2M390.3 204.7L390.9 204.1M395.2 223.2L394.8 224.0M392.5 224.8L393.0 224.0M391.8 224.4L391.6 224.9L391.6 225.3L391.8 225.8M399.7 224.6L399.3 224.6L398.9 225.0M397.2 226.4L396.6 226.8L396.4 226.8M399.3 225.6L399.5 226.1L399.8 226.1M431.6 149.7L431.6 150.3L431.8 150.4L432.0 150.7M431.2 147.8L431.2 147.2L431.4 146.6L431.7 146.3M431.0 145.2L431.1 145.6M431.1 149.0L431.6 148.3L432.3 147.9L432.7 147.2M434.1 149.5L434.7 149.7M430.1 150.5L430.3 150.6M431.7 135.5L431.9 136.2L432.3 137.0L432.4 137.4M430.7 135.8L431.5 136.0M431.9 133.5L432.5 133.3L433.2 133.5L433.4 133.6" fill="none" stroke="#fff" stroke-width="0.5" stroke-linecap="round" stroke-linejoin="round"/>
<path d="M143.4 100.8L143.0 100.3M142.7 97.9L143.0 97.9L143.8 97.7L144.3 97.6M155.3 122.9L155.3 122.1M149.9 127.1L150.2 127.0M153.2 125.5L153.9 125.3L154.6 125.6L155.3 125.0M155.2 121.5L155.5 121.0L155.8 119.9M150.5 120.8L150.3 120.9L149.6 120.7L149.4 119.6M149.0 120.6L148.9 120.1M152.7 120.6L152.9 120.0L152.6 119.4L152.0 118.9M164.5 135.3L164.9 134.9M162.9 132.5L162.9 131.5M161.7 139.6L162.0 140.1L162.1 140.7L162.0 141.5M167.0 137.4L167.4 137.3M165.3 139.3L165.2 139.1L165.5 138.8M171.6 131.0L171.5 131.8L171.6 132.9M162.2 126.8L162.2 127.1L162.1 127.4L161.8 127.3M166.5 127.9L166.2 127.5L166.0 126.4L166.5 126.3M170.8 131.1L171.7 131.9L172.0 132.6M164.0 127.1L165.2 127.1M178.1 143.8L178.3 143.3L178.1 143.0L177.5 142.5M184.7 149.5L184.9 149.9L185.4 150.4M181.0 149.2L180.3 150.0M179.9 154.9L179.3 155.8L179.4 156.6L180.3 156.7M180.0 155.3L179.5 155.4M178.9 145.4L178.3 145.9M190.8 161.5L191.0 162.1L191.4 163.0L191.4 163.5M185.2 158.9L185.0 159.0L184.0 159.8M179.6 161.7L179.9 161.3M187.0 158.4L186.5 159.2M188.7 149.8L188.5 149.1L187.8 148.4L186.8 147.8M202.4 168.9L203.7 169.1L203.9 169.0L204.3 167.9M198.7 157.7L198.2 157.6L197.8 158.2M193.9 170.0L194.0 168.9L192.8 169.6L191.8 170.4M193.7 172.5L194.3 173.4L194.9 173.1L195.1 173.1M204.9 159.4L204.4 159.9L204.7 160.7M202.1 159.7L202.0 160.0M203.8 156.0L204.4 156.4L204.9 156.3L204.9 156.7M199.9 162.9L199.8 162.6L199.8 162.4M194.5 165.1L195.4 165.7M187.5 156.7L188.5 157.4L188.9 157.2M183.5 159.0L182.8 159.3L182.7 158.1M183.6 158.3L183.8 158.3M190.9 159.0L191.0 159.3L191.3 159.6L191.0 160.0M181.2 158.5L180.9 159.5L180.9 159.6L181.0 159.3M210.7 174.5L211.5 174.3M206.0 162.1L205.7 160.9L206.1 160.3L206.1 160.0M200.6 180.5L201.1 180.3L201.5 180.2M199.2 171.6L199.4 171.6L200.0 171.9L200.7 171.6M202.4 171.9L202.4 171.2L202.7 170.7M199.0 171.4L199.4 172.4L199.7 173.3L199.3 174.3M212.8 171.6L213.5 170.7M204.4 180.0L203.9 181.0L203.2 181.4L203.3 180.7M204.7 181.4L205.3 182.2M211.1 191.5L210.0 191.0M213.7 158.0L212.8 157.5M212.4 160.6L211.8 160.9M218.4 191.6L218.2 192.2L218.3 193.1M212.3 190.9L212.3 190.7M214.2 193.3L213.4 193.6L212.6 193.6M213.6 192.3L212.9 192.0L212.7 193.0L211.6 192.8M222.3 190.5L222.1 190.6L221.6 190.3M224.6 188.4L224.7 189.2L224.5 189.5L223.5 190.1M224.6 195.9L224.9 195.3M207.1 190.4L207.0 190.6L206.3 190.2M216.2 199.4L215.8 199.1L215.6 198.8M214.7 194.0L215.0 193.8L214.9 193.6L214.5 193.0M215.4 200.2L215.1 199.9L215.2 199.2L215.3 199.6M225.6 193.1L226.2 193.6L226.4 193.2L226.2 192.2M225.0 195.1L224.0 195.7L223.7 196.5M229.0 192.6L229.7 193.4L230.8 193.3L231.5 192.6M210.4 198.6L210.1 198.5L209.4 198.0L208.6 197.3M209.1 197.7L209.7 198.3L209.9 198.1L209.9 197.8M209.2 199.5L209.0 198.3L208.4 199.1M240.9 212.8L241.4 212.6L241.7 212.7M239.5 209.3L240.4 209.7L241.3 209.6M213.2 199.0L213.2 199.6L213.2 199.8M212.4 198.6L212.7 199.2M210.4 196.0L211.0 196.2L211.4 197.1M240.7 221.9L240.7 221.6L241.3 221.0M237.9 223.7L237.8 223.5M234.1 224.1L233.8 223.8M232.2 221.1L232.2 221.3L231.4 221.7L231.4 222.3M216.7 209.3L216.9 208.5L217.4 208.1M236.0 212.0L235.5 212.5L235.2 212.8M240.8 216.0L239.9 215.4M241.2 213.9L241.4 214.2L242.3 213.7L243.1 213.9M230.7 219.1L230.5 220.2L230.6 220.3L231.5 220.5M230.6 218.3L229.8 217.5L229.9 217.9L230.4 218.8M230.0 219.1L229.9 219.6L229.3 219.9M230.8 218.8L229.9 218.2M230.4 219.9L230.0 219.9L229.4 220.0L230.0 220.8M238.6 215.0L238.7 215.1M236.6 212.4L236.4 212.3L236.3 212.6M200.3 187.0L199.8 185.8L198.7 185.9L198.3 187.0M216.0 192.6L216.0 193.1L216.6 193.7M216.8 195.1L216.6 195.1L216.4 195.3M206.0 187.8L205.6 188.1L205.0 188.5M214.8 201.1L214.9 200.0L214.3 200.0L214.0 199.9M214.5 187.4L214.3 187.8L214.1 188.5M214.9 202.5L214.9 202.3M214.5 202.3L214.4 201.4L214.2 200.4L214.1 200.1M201.8 199.7L201.5 199.6M201.7 199.3L202.6 199.0L203.5 198.7M219.7 193.8L220.0 194.0M219.7 194.6L220.3 195.4M219.9 192.6L219.8 193.6L220.2 193.6L221.0 193.2M227.3 209.6L226.9 209.8L226.7 210.5L225.9 211.1M229.7 211.1L230.3 211.8L230.8 211.9M231.7 203.2L232.2 202.5M230.0 210.8L229.8 211.2L229.0 211.8M239.2 196.3L238.9 196.4M228.1 216.2L228.9 215.7L229.5 216.5L229.7 216.8M220.4 211.6L220.7 210.7L221.5 210.8L221.4 211.0M232.5 219.4L232.9 220.3L232.8 220.6L232.0 220.5M233.6 218.7L233.3 218.9L232.7 219.7M238.9 209.3L238.7 208.7L238.6 207.9M238.5 207.7L238.4 207.6M240.0 193.7L240.7 193.5L241.1 192.6L240.5 191.7M253.1 229.9L253.1 230.2M254.9 229.5L254.6 229.0M254.3 229.4L254.1 229.3M255.8 229.8L256.3 229.7M256.8 230.0L256.8 230.2M256.1 229.6L256.9 229.6M247.7 224.5L248.1 224.9L248.5 224.9M250.5 226.3L250.1 226.7M249.8 227.0L249.3 226.9M239.0 214.2L238.8 214.3L238.1 213.7L237.5 213.1M247.6 228.1L247.9 227.5L248.7 227.6L249.0 227.1M246.6 228.0L246.2 228.5L245.3 228.7L244.7 229.1M244.8 233.7L244.5 233.6L244.2 233.8M243.3 234.0L243.2 233.8L243.2 233.6M242.6 233.5L242.9 233.4L243.1 233.3L243.4 233.4M243.4 233.6L243.6 234.1M252.0 223.0L251.9 222.8M253.0 224.7L253.0 224.4L253.6 224.3L253.8 223.6M253.4 221.7L252.9 221.2L252.6 221.6L251.6 221.6M246.3 198.5L245.7 197.7M245.3 198.5L245.2 198.1M232.1 208.4L232.2 208.3M246.5 229.0L247.0 229.0M252.4 228.7L252.4 228.5L253.0 228.2L253.2 227.4M259.7 233.5L260.2 232.9L260.4 232.9M253.4 231.1L253.2 231.0L252.6 230.8L252.3 230.8M243.8 204.2L243.4 204.6L243.7 205.0L243.9 205.4M239.0 207.3L239.4 206.9L239.8 207.0M240.4 214.2L240.6 214.2L241.3 213.6M241.0 215.6L241.3 214.8L241.2 214.6L241.0 214.5M237.7 227.6L237.6 228.1L237.7 228.8M249.0 209.9L248.8 209.7L248.4 208.9M246.6 208.7L246.6 207.9L246.4 207.6M242.3 196.0L242.9 195.9M232.5 216.3L232.6 216.2L232.8 216.3M231.3 213.0L231.6 212.3L231.5 211.9M254.0 239.8L253.8 240.2M254.8 238.2L254.7 237.8L254.5 237.3M235.9 222.2L235.8 222.5L235.5 223.1L235.0 223.8M238.5 223.4L238.3 222.8L238.6 222.5L238.5 221.9M242.2 207.2L241.8 206.5M240.9 206.3L241.0 206.0L241.5 206.0L241.5 205.5M230.1 233.1L229.6 233.5L229.1 232.7M230.7 232.2L230.4 231.5L230.5 230.7L229.9 230.0M243.4 208.3L243.1 208.5L243.1 208.8M241.6 217.6L241.5 217.1L241.3 216.9L241.3 216.6M240.7 218.5L240.3 219.2M241.8 220.0L241.8 219.8M245.2 219.2L244.7 219.5M224.8 209.9L224.6 209.6L224.4 209.5M225.7 212.0L226.3 211.3M227.2 210.3L227.7 210.2M230.5 203.3L230.1 204.0L229.6 204.0L229.6 204.3M229.5 203.3L229.9 203.2L230.4 203.2L230.7 203.6M221.2 199.2L221.0 199.5M221.7 199.6L222.6 199.8L223.1 200.0L223.2 199.8M220.9 199.2L220.6 199.9L220.3 200.4L220.0 201.1M231.6 200.7L231.7 200.1L232.0 199.8L232.1 199.3M232.3 202.2L231.8 201.5L231.1 201.5M225.0 194.4L224.9 194.6L224.8 194.6M223.9 193.7L224.5 193.5L225.1 193.4M222.5 193.4L223.3 193.7L223.0 194.2L222.8 194.4M224.9 193.9L224.6 193.6M220.9 183.9L220.1 184.2L219.9 184.3M222.1 183.6L222.4 183.8L222.6 184.6M210.1 212.9L210.8 212.6L211.5 213.1L211.5 213.3M211.3 214.1L211.0 213.5L210.9 213.3L210.4 212.9M226.2 192.0L226.9 192.1L227.2 192.0L227.3 191.8M215.2 188.4L215.5 189.2L215.8 189.6L216.4 190.0M215.1 182.0L215.0 182.6L215.2 182.7M216.8 183.1L217.1 183.2L216.7 183.6L216.0 184.0M210.5 210.0L210.6 209.5L211.4 209.7M211.9 210.3L211.4 210.3L211.4 210.5M227.1 227.4L227.1 227.9M226.7 224.0L226.4 223.7L226.3 223.5L225.8 223.3M211.3 194.5L212.0 194.3L212.2 194.2M211.6 194.2L212.0 194.4L212.7 194.6M174.2 148.6L174.6 148.4M175.7 147.8L176.4 147.8M169.6 150.5L168.7 150.6L168.5 151.2M171.7 148.9L171.7 149.3L172.0 149.7M185.4 92.0L185.7 92.5L185.7 92.7L186.1 93.1M196.8 84.8L197.2 84.9M196.9 103.0L197.4 102.7M198.4 104.0L198.6 103.2L198.8 102.7L199.1 102.2M200.8 79.1L200.2 78.9M192.0 103.7L191.3 104.3L190.6 104.6M190.5 108.7L190.0 109.5M187.9 106.2L188.1 105.3M192.2 106.1L192.6 106.0L192.7 106.9M193.5 120.0L193.4 121.1L192.7 121.5M189.9 99.0L189.6 98.2L189.4 97.8L188.7 97.0M192.0 98.2L192.1 97.2L191.8 96.3L191.8 95.9M191.2 98.1L191.6 97.7L191.5 97.3M195.5 93.6L195.1 94.5L195.2 94.1L195.5 93.6M197.9 103.0L198.2 102.4L197.9 101.4M198.0 103.2L198.1 102.3M186.4 108.5L186.5 108.1L187.5 108.0M187.1 107.5L186.5 107.6L186.1 107.5L185.9 107.5M200.0 97.4L199.6 97.2L199.4 96.5L199.1 95.6M195.6 112.7L195.8 113.6M196.1 113.5L195.9 114.0M194.1 91.6L194.4 91.9M202.0 89.6L201.9 89.1L202.3 88.5L203.1 88.5M201.4 89.8L201.7 89.1L201.0 88.5L200.2 88.3M200.7 90.4L201.3 90.5L201.9 89.9M201.4 89.9L200.7 90.2L200.4 91.0M196.0 94.9L196.3 95.0M191.8 105.1L192.0 105.4M192.5 96.9L192.4 97.1L192.1 97.5M193.9 96.5L193.3 96.8L193.2 97.6M200.8 96.4L200.7 96.5M201.9 99.5L202.4 99.9L203.0 99.6L203.3 99.6M203.1 105.1L203.2 105.1M201.2 105.5L201.6 105.6M198.2 106.0L198.0 105.4L197.6 105.2L197.0 104.6M200.6 105.2L199.9 105.2L199.4 106.1M201.8 102.8L201.6 103.0L201.9 103.4M202.7 104.8L202.1 104.9M200.5 105.9L199.6 106.0L199.2 106.1M208.5 100.3L207.8 100.5M198.8 100.1L199.2 99.9L200.0 99.9L200.9 99.6M205.8 106.8L206.3 106.7M206.5 106.6L206.1 106.6L205.3 107.0L204.9 107.9M197.8 99.8L197.9 99.6M223.5 131.0L223.7 130.9L223.8 131.2M226.2 128.7L226.1 128.8L226.0 129.3M224.4 127.0L225.0 126.9L225.7 126.7L226.3 127.2M221.3 125.5L221.2 125.9M211.7 123.0L211.9 123.3L212.7 122.9M216.7 115.0L216.0 114.6L215.6 114.5L215.0 114.4M216.4 116.1L216.3 116.2L216.0 116.3M215.4 115.1L215.1 115.8L214.8 115.9L214.0 115.9M215.7 114.6L216.0 114.1L216.1 113.9L216.5 113.5M218.3 124.3L217.4 124.8L217.0 125.0L216.2 124.7M220.3 123.5L220.1 124.1L219.6 124.5M216.4 138.0L216.4 137.0L216.6 136.6M214.4 141.6L214.6 141.3L214.8 141.5M212.1 141.2L212.1 141.5L212.4 141.5M227.5 134.3L227.4 134.7L227.7 134.1L227.9 134.1M225.7 134.2L226.6 134.4L227.5 134.7L227.7 134.7M219.8 108.8L220.7 108.7L221.2 109.5M219.8 102.5L220.3 101.7L220.8 100.9M218.0 107.1L218.1 107.4M215.5 121.0L215.6 121.9L216.3 121.9M219.2 112.8L219.1 112.4L219.2 111.8L219.6 111.0M216.6 112.1L217.0 111.8L217.9 111.6L218.7 111.2M219.1 111.4L219.3 112.1L219.5 112.3M220.2 112.7L219.8 113.0M218.5 113.8L218.1 113.5L217.9 113.0M214.4 135.0L214.7 134.4L215.1 133.9M213.2 133.5L213.5 133.7L213.7 134.3M212.5 134.0L212.5 133.6M215.0 155.4L215.8 155.7L216.5 156.4M208.9 98.9L209.3 99.0L210.1 99.1L210.5 99.3M219.3 138.1L220.0 138.2L220.6 139.0M216.0 148.9L216.4 149.2M216.8 122.9L217.6 122.9L217.6 123.3M223.5 115.7L223.7 114.9L223.5 114.5L223.5 113.7M220.6 114.7L220.4 114.5L220.4 114.1M209.9 121.7L210.2 122.3M201.3 112.7L201.5 112.8L201.5 113.4L201.1 113.5M201.4 111.6L201.6 111.7L201.9 111.4L202.2 111.8M224.8 145.8L224.6 145.8L224.4 146.7L224.3 146.7M206.1 136.0L206.2 135.8L207.0 135.4L207.4 135.3M231.1 150.6L231.8 150.2M216.9 147.1L216.0 146.8L215.8 146.0M211.3 147.7L210.6 147.9L210.0 148.0M217.3 118.3L217.3 118.5M222.2 102.4L221.5 101.8M221.8 101.9L222.0 101.8L222.1 101.3L222.4 100.8M226.7 118.6L227.5 118.5L228.2 118.5L228.8 117.9M227.6 119.1L228.2 118.3L228.4 118.4L229.1 118.0M203.7 140.0L203.9 139.8L204.7 139.5L205.6 139.7M226.4 131.0L226.4 130.7L225.7 131.0L224.9 131.1M227.1 132.9L227.7 133.2L228.3 132.9L228.6 132.9M225.3 134.0L225.5 134.1M226.3 133.2L225.8 133.8M222.5 133.8L222.8 133.5L223.2 133.9M220.8 132.7L221.2 132.5L221.5 132.2M225.1 142.5L225.8 141.9L226.0 140.9L226.2 140.7M224.6 142.2L224.5 143.3L224.4 143.5L223.8 143.6M220.6 121.8L220.5 121.2L220.5 121.0L220.9 120.8M219.4 121.9L218.6 121.9L217.9 122.4L217.1 123.0M221.7 122.0L221.1 121.8L220.7 121.9M207.3 113.0L207.3 112.9L206.6 112.3L206.6 112.1M199.8 116.9L199.8 116.6L199.2 116.1L198.7 115.7M219.6 135.6L218.9 135.5L218.6 135.2M234.3 137.5L234.4 138.4L234.6 139.1M234.5 139.3L234.6 139.4L235.2 140.0L235.5 140.5M233.2 148.2L233.6 148.3L234.0 147.9L234.3 147.5M232.1 148.9L232.5 149.7L232.8 150.2L232.7 150.3M210.7 127.8L211.0 126.9M211.7 127.3L211.7 127.2M227.5 133.7L228.0 133.9L228.2 134.0L228.4 134.8M228.1 134.7L228.4 134.2M231.9 136.0L231.7 136.2M227.8 144.0L227.7 143.4M224.7 141.9L225.3 141.5L225.7 141.2L225.8 141.9M225.4 145.0L224.9 144.3M215.8 138.1L216.2 138.4M215.3 139.0L215.1 138.3L215.1 138.0M215.6 139.4L215.3 138.8M215.6 140.3L215.8 141.1L216.0 141.4L215.6 141.6M227.4 132.9L227.9 133.3M227.2 133.7L226.7 133.0L226.1 133.8L225.8 134.1M229.7 146.6L229.8 146.8M229.9 149.2L229.8 149.7L229.9 150.5L230.2 150.9M226.9 117.5L226.9 117.2M228.0 109.4L227.8 108.9L227.8 108.6M226.5 113.9L226.8 114.3L226.9 114.2L227.0 114.4M227.6 115.1L228.2 115.1L228.4 115.1M227.5 114.5L227.9 114.4M227.5 113.3L227.1 113.3M227.8 113.5L228.4 113.4L229.0 113.5M320.2 160.2L321.5 160.7L321.9 161.2L322.0 161.9M314.6 149.7L313.8 150.0L313.5 149.9M317.6 154.1L317.5 153.9M316.3 155.6L316.6 155.3L316.5 155.1L317.1 154.6M313.8 157.3L314.6 158.0L314.1 159.0L314.1 160.4M317.3 158.8L317.2 157.7L316.9 157.0M315.3 158.5L315.1 159.1M319.3 161.2L319.9 161.1L320.6 161.7L321.5 161.5M317.2 163.3L317.5 162.7L317.4 162.1M349.8 138.2L350.5 137.4L351.0 136.8L351.7 136.9M345.6 138.1L345.3 137.9L345.2 137.3L345.8 137.0M345.3 137.1L344.4 137.8M353.1 137.1L353.6 137.8L354.6 138.2M372.8 117.6L373.6 118.3L373.7 118.6M374.6 119.6L374.6 119.1L374.5 118.9L373.5 118.2M381.2 118.1L380.7 118.0M371.5 126.9L370.5 126.4M371.1 131.7L371.9 132.1L372.0 132.6L371.6 133.0M373.6 128.6L373.1 128.6L372.4 129.0M375.6 115.5L375.1 115.8M372.2 121.0L371.9 120.0L371.1 118.9L370.7 118.1M371.8 122.5L371.4 122.6L371.8 123.2L371.8 123.4M355.1 172.6L354.9 172.2L354.2 171.5M356.8 169.6L356.4 169.6L355.9 170.0L355.9 170.3M362.2 180.6L361.9 181.6L362.2 182.4M338.0 163.6L337.4 164.1L337.1 164.3M343.0 163.8L343.7 164.7L343.9 164.9L343.9 164.6M348.9 185.6L348.3 185.4L348.5 184.8L348.6 184.6M349.1 182.9L349.3 183.9L349.6 184.5M351.3 175.7L351.1 175.0M355.6 173.0L355.8 172.8L356.3 171.9L356.3 171.4M343.5 162.3L343.1 162.8M343.4 163.2L343.7 163.6M343.0 162.0L342.7 161.5L343.0 160.5M314.2 175.6L314.3 174.9L314.2 175.0M314.8 179.4L315.2 179.6M312.5 170.7L312.9 170.8M316.4 172.4L316.0 172.2L315.7 172.7L315.5 173.6M312.2 168.6L312.0 168.6M313.2 168.1L312.8 168.1M355.7 142.5L355.9 142.4L356.2 142.2M367.8 142.6L368.6 142.8L368.8 143.4M346.8 194.9L347.5 194.1M348.8 192.8L347.7 193.3M340.5 193.0L339.6 193.2L338.9 193.6L338.8 194.1M338.5 194.9L338.9 194.9L339.5 194.8L339.3 193.8M333.8 186.9L334.9 186.8M334.6 186.8L334.7 187.5M353.2 216.9L353.5 216.8L353.5 216.1L353.1 216.1M355.5 218.4L355.7 218.9L355.6 219.1M366.2 190.8L366.1 190.2M348.5 185.5L347.7 185.1L347.9 184.5L348.6 183.6M348.5 186.8L348.1 186.8L347.8 186.7M353.5 213.0L354.6 213.1L355.0 213.2L355.9 213.8M348.1 204.8L347.9 204.9M361.8 190.0L361.7 190.3L362.0 190.3M360.2 189.8L360.7 189.7M358.5 188.5L358.0 188.5L358.0 188.2M349.3 190.9L349.1 190.6L348.4 191.0M349.3 190.1L349.9 190.0M349.4 188.9L349.2 188.8L348.5 188.7L347.4 188.9M361.9 197.5L362.2 197.9L363.2 197.8M333.1 187.8L332.7 187.0L332.2 187.2M361.5 208.5L362.7 208.3L363.2 207.3M355.4 210.7L354.7 210.0M359.3 200.2L359.9 200.5L360.8 200.7L360.9 200.2M354.2 205.0L354.0 204.1L353.9 202.9L354.1 202.0M358.2 212.0L359.1 211.7L360.3 212.4L360.6 212.6M354.1 210.0L354.5 209.1L354.4 207.9M349.4 196.4L349.0 196.3M359.8 207.3L359.5 205.9L359.3 205.7M365.5 207.6L365.4 207.0M365.0 207.3L364.7 207.3M353.5 199.9L353.9 201.2M348.7 207.0L348.5 207.6L348.2 208.9L348.5 208.6M353.3 202.5L353.5 202.8L353.8 203.7L354.4 204.3M362.4 200.5L362.5 199.7L363.5 199.3L364.3 199.4M369.7 201.0L370.0 201.3L370.5 201.4L370.9 201.2M382.5 213.6L382.8 214.5M382.2 215.0L382.7 215.1M377.7 205.8L378.0 205.5L378.3 204.6M380.8 219.6L380.6 219.5L380.4 218.8M364.9 213.2L364.7 213.4L364.5 213.5L364.7 213.9M365.9 214.3L365.3 215.3M367.1 212.8L366.5 212.7L366.1 212.9L365.8 212.9M446.5 100.0L446.5 101.4L446.4 101.7M430.1 114.1L429.8 114.6L428.9 114.7L428.9 115.3M432.0 114.3L432.0 114.8L431.9 115.2L432.3 116.6M432.4 112.9L433.2 114.1M439.9 109.6L439.3 109.2L439.1 108.1L438.3 107.8M437.1 109.8L436.5 110.0M422.7 113.8L423.1 113.7L423.4 113.4L423.2 112.3M422.5 116.3L422.2 116.3L421.9 116.4L421.9 116.2M423.9 112.9L424.0 112.5L425.0 111.6L424.6 110.6M445.3 97.2L444.8 96.9L445.7 97.8L445.8 98.7M432.0 102.0L431.5 102.7M433.4 102.7L433.1 102.7M416.2 112.1L416.4 111.9M438.5 106.7L439.4 107.5M422.9 97.1L424.1 97.9L424.3 98.0L424.1 99.3M427.5 100.5L428.3 99.2L429.6 98.8L429.8 99.2M424.8 98.6L425.3 98.9L426.9 99.2M429.0 99.1L428.6 100.1L428.3 101.2L428.0 101.4M433.6 99.7L432.5 98.8M436.9 103.1L436.8 103.4L436.6 104.3L436.1 104.9M437.2 93.2L437.1 91.8L437.4 90.9M439.0 95.2L439.3 94.0L440.5 93.8L441.8 93.3M439.1 95.6L438.5 94.9L438.7 94.4M440.5 111.2L440.0 111.2L439.2 111.1M430.9 103.1L431.3 101.8L431.2 101.1L431.0 99.7M431.8 106.9L432.0 107.0L432.1 107.9M429.6 105.5L429.5 105.1L429.6 103.7L429.4 102.3M429.8 106.8L431.1 106.6L431.4 106.5L432.1 106.2M443.3 101.2L442.2 100.8L441.7 100.5L441.1 100.8M441.0 102.9L439.6 103.1M423.0 115.8L422.5 114.7L422.2 114.1L422.0 113.0M427.1 92.9L426.9 92.6M404.9 100.2L405.3 100.4M406.2 100.9L405.9 101.9M418.7 99.8L418.9 99.9M419.4 100.1L419.4 100.0L419.8 99.1M407.1 99.3L406.5 99.5M414.6 106.5L415.1 106.1L414.6 105.0L413.9 104.4M414.3 102.1L414.1 102.3M373.7 123.1L373.2 122.3L372.2 122.1L371.3 121.6M373.3 123.1L372.8 122.7L372.9 122.3L372.9 123.3M375.1 124.0L374.7 124.1L373.7 124.5L373.5 125.5M372.6 123.1L372.8 122.7L373.3 122.8M382.8 128.8L383.3 129.1L383.8 129.0M379.6 129.2L380.4 128.8L380.4 127.7M379.0 135.8L378.5 136.1L378.8 136.3L379.3 136.8M376.5 136.3L376.7 136.6L376.2 137.1M379.0 126.3L379.1 126.5M378.8 126.5L379.1 126.3L379.4 126.4L379.7 125.7M379.1 133.5L379.6 133.7M375.9 127.2L375.6 126.8M369.6 127.8L369.3 128.4L369.2 128.5M411.4 113.9L411.5 114.3M411.7 113.0L412.1 113.6L412.6 113.7M414.6 112.5L413.6 112.8L413.0 112.8M414.0 112.5L413.3 112.5L412.9 112.2M426.2 115.3L425.1 115.5L424.4 116.5L424.0 116.8M416.7 119.2L415.5 119.5L414.4 119.4L413.4 120.1M420.0 118.9L419.9 119.7L419.9 119.9L420.1 120.1M417.0 120.0L417.6 120.8L417.2 121.9L417.0 122.2M388.2 106.4L387.9 107.0L388.4 107.8M387.1 107.8L386.4 108.3L385.9 108.0L385.5 107.6M400.0 100.3L399.1 100.7M397.7 100.1L397.7 99.2L398.0 98.7M437.5 104.5L437.2 104.1L435.9 105.0L435.6 105.0M431.8 110.8L431.5 110.3L430.6 109.8M433.4 108.2L433.0 108.1L432.4 108.5M420.5 156.6L420.2 156.6L419.3 156.3L418.4 155.3M426.1 164.2L426.6 164.8L427.2 165.3M410.7 179.9L410.2 179.7L409.8 179.4M410.8 181.9L410.6 182.0L410.3 182.1M415.2 168.2L414.6 168.2M415.1 169.3L415.1 169.0L415.0 168.3L414.1 168.3M423.4 177.8L422.5 177.8L422.7 178.0M417.6 178.7L417.4 179.8M416.8 171.2L417.5 172.0L417.6 171.6L416.6 171.9M410.8 185.2L410.5 185.1M423.5 162.3L423.6 161.8L424.1 161.4L424.7 161.0M424.0 163.0L424.1 162.8L424.8 162.0M409.5 205.8L409.4 204.8L409.5 205.3M406.4 204.6L406.3 205.7L407.2 206.2L407.6 206.5M413.3 203.5L413.4 202.3L413.3 202.3L413.4 201.4M412.0 202.6L411.9 203.1M409.5 198.6L409.6 198.2L409.4 197.5M405.7 209.8L406.3 210.4L406.5 210.8L407.2 211.5M405.0 209.2L404.6 210.2L404.8 210.5M410.9 205.8L411.3 205.7M410.6 205.7L410.4 205.8M366.3 189.1L365.9 189.0L365.3 189.2M391.6 186.0L391.3 186.6L391.6 187.0L391.2 187.6M391.6 186.6L391.2 186.3L391.8 185.8M391.4 204.7L392.1 204.5M387.1 205.9L386.3 206.1L385.9 205.8L385.7 205.8M381.1 211.1L381.2 210.4L381.4 210.2L381.7 209.7M376.9 215.8L376.1 216.6L376.0 217.2M390.8 205.0L391.8 204.5L391.3 203.5M389.7 216.3L390.8 216.7M392.2 224.9L392.5 225.0L392.7 225.1M401.5 226.1L401.7 226.0L402.0 226.0L402.3 225.7M400.3 224.8L399.6 224.6L398.9 224.9L399.1 225.8M398.5 222.4L398.7 222.3L398.6 221.7M433.4 148.6L433.7 149.2L434.1 149.4L434.8 149.7M429.1 147.9L428.9 148.3L429.0 149.1M430.3 147.3L429.8 147.3L430.0 147.2L430.5 147.0M430.4 134.5L430.8 134.1L431.5 133.5L431.6 133.2M430.3 135.3L430.0 135.0M426.6 140.3L426.3 140.8L426.0 141.2" fill="none" stroke="#fff" stroke-width="0.7" stroke-linecap="round" stroke-linejoin="round"/>
<path d="M154.5 126.7L155.2 127.6L155.6 127.7M151.8 122.4L152.5 122.3M153.0 123.2L152.7 122.8L152.3 123.4M151.5 121.7L151.5 121.3L150.7 120.9L150.4 121.2M165.6 133.1L165.3 133.0L164.5 133.3M163.6 135.3L163.7 135.6L163.8 136.0L164.0 136.4M163.7 137.0L162.8 136.4L161.9 136.1M164.2 140.8L165.1 141.6M166.2 139.6L166.3 139.9L166.6 140.8L165.6 141.5M171.2 131.1L170.6 131.0L169.8 131.3L168.8 131.0M164.7 131.2L164.3 130.8L163.5 129.9L163.3 129.1M165.4 132.0L164.9 133.0L164.4 133.2M164.8 132.6L165.0 133.0L164.6 134.1M164.2 127.1L163.5 127.9L162.3 127.5M169.3 130.7L169.6 129.9L169.3 128.6M168.7 132.0L168.7 132.6M166.6 129.8L167.1 129.9L168.4 129.6M180.8 155.5L180.3 155.2L180.0 156.1L179.6 156.1M179.0 145.9L179.1 146.2M179.2 147.6L179.4 147.4L179.3 147.7M189.8 161.9L190.4 161.6L191.1 162.0L190.7 162.9M193.5 161.1L193.1 160.6M182.4 167.1L182.3 167.3M184.8 165.4L185.7 165.0L186.3 164.5M182.5 163.2L182.2 162.8M181.7 156.6L181.4 156.6L180.6 157.6M193.4 161.2L192.3 160.6M198.7 159.9L198.5 160.2L198.0 160.2L197.0 159.3M198.2 158.0L197.8 157.1L197.7 157.0M190.7 149.1L190.8 148.6L190.5 148.6M188.2 148.7L188.7 148.8L188.3 147.5L187.2 147.3M197.9 156.3L198.1 156.3L198.6 156.2L198.9 155.9M195.0 163.0L195.8 162.0L195.5 160.8L195.9 160.3M195.0 163.0L195.0 162.8L195.2 162.7L195.3 163.1M192.3 170.2L192.0 171.4L192.0 171.7M192.6 173.6L193.0 173.4M203.6 159.8L203.9 160.3L204.3 161.2M199.0 164.4L199.0 164.7L199.2 165.9M195.4 165.4L195.5 165.7L195.8 166.7L196.6 167.1M186.8 146.3L186.0 146.5L185.3 147.2M181.4 161.7L181.8 162.3M179.9 159.6L180.0 159.8L180.2 161.0L180.5 160.9M182.9 159.7L182.6 159.8L182.8 160.3L183.9 160.2M190.6 155.5L190.3 155.6L189.7 156.2M191.3 152.9L191.7 152.0M190.5 155.9L190.8 157.0L190.1 157.9L190.3 158.1M191.1 156.7L191.3 156.8L191.4 156.0M209.7 173.2L209.6 174.2L209.7 174.3L208.9 174.9M205.4 173.1L206.4 173.8L205.6 174.6M207.1 168.2L206.2 168.8L206.2 169.7M205.9 162.7L206.1 161.8L206.6 161.3L206.6 161.0M206.1 187.9L207.1 187.7L207.1 186.5L206.6 185.7M194.6 181.7L194.6 182.2L193.3 182.0L193.3 182.8M196.3 180.8L195.8 179.9L196.2 179.3L195.4 178.7M216.1 181.5L216.3 181.2M217.3 181.3L217.7 181.2L218.3 180.8L218.9 180.8M198.7 168.4L197.8 168.2M202.8 179.4L202.7 179.1L202.9 178.7M211.6 195.4L212.2 195.5L212.6 195.0L212.5 193.7M212.6 192.3L213.1 192.5L213.2 192.6L213.4 193.3M211.6 159.1L211.6 159.4L212.2 160.0M194.3 182.4L193.9 182.4L193.1 183.4M198.0 166.4L198.9 166.2M209.5 177.4L209.4 177.5L209.2 178.2L208.4 177.7M208.9 178.6L209.3 179.5L209.1 180.2L208.2 179.8M211.0 160.5L211.1 161.2M211.2 180.0L210.4 180.9L210.4 181.2M219.0 193.3L219.5 193.5L219.5 194.6L218.5 194.9M217.6 192.1L216.9 191.2M210.8 191.1L209.9 190.9M215.0 192.9L215.6 193.0L215.7 193.4L216.2 193.6M221.8 194.5L221.6 195.0L222.0 195.7M206.8 188.9L207.4 188.7L207.9 188.5L208.1 188.4M206.8 188.9L207.8 188.8L208.5 189.3L208.5 189.6M227.1 195.7L227.3 195.6L228.3 196.0L229.2 195.7M229.7 195.0L229.3 194.8L228.6 195.8L228.9 196.3M219.0 185.7L218.3 185.5L218.3 185.3M235.5 192.8L234.7 193.4M233.9 197.0L235.0 197.2L236.1 197.2L236.3 197.4M240.8 210.7L240.8 210.5L240.9 210.3M242.4 208.1L243.0 207.4L243.2 207.1L243.6 206.5M241.2 208.1L241.8 208.7L242.4 208.8L242.0 209.4M242.6 209.3L242.4 209.8L242.4 210.4L242.3 211.4M223.0 207.0L223.3 206.8L223.9 206.4L223.3 205.9M223.7 207.4L222.8 207.7M223.2 206.9L222.9 207.0M223.9 206.1L224.2 206.8M224.8 205.4L224.6 204.9L224.9 204.3L224.9 203.6M231.5 222.0L232.2 222.5L232.3 222.9M237.9 212.1L238.5 211.3M235.9 212.7L236.0 213.1M217.3 210.8L217.7 211.8L217.1 212.2M217.3 211.0L217.7 211.2M236.1 211.9L236.2 211.4M237.5 209.3L238.5 209.0L238.4 207.9M237.0 210.1L236.0 210.0M225.8 201.9L226.2 202.6L225.8 203.6M240.1 214.0L241.0 214.3M221.4 215.2L221.8 215.6L222.0 215.6L222.2 215.8M218.3 217.4L217.5 217.2L217.8 217.9M218.3 216.2L218.5 216.9L218.5 217.5L217.5 217.9M236.7 218.2L237.4 218.8L238.1 218.5L238.3 218.4M236.5 215.4L235.5 215.3L234.4 215.2L233.4 214.8M216.0 178.2L216.3 177.6L216.3 177.1L216.9 176.1M219.4 196.0L219.5 195.2L219.8 194.6L220.9 194.3M220.8 194.3L221.5 194.0L222.3 194.8M215.8 195.6L215.9 194.8M216.7 194.1L216.5 193.8M215.2 195.9L216.0 194.9M211.6 200.2L211.6 200.8L211.0 201.0L210.7 200.6M204.5 202.0L204.1 201.7L204.8 201.0M215.0 199.9L213.9 200.0L213.0 198.9M214.4 203.2L214.1 203.0L213.2 202.1M210.4 190.3L210.8 191.4L210.7 192.5M211.1 190.7L212.4 190.5L213.4 190.2M216.4 198.2L216.5 197.1L216.4 196.9L216.2 196.9M203.4 198.6L203.0 198.9M207.0 190.8L205.9 190.2L205.5 189.5M206.6 191.2L206.8 191.8M218.8 195.9L218.8 196.9L219.3 198.1L219.7 198.6M228.1 212.8L227.4 212.7M230.3 204.6L229.6 204.5L228.8 204.1M229.3 210.3L229.0 210.2L228.7 210.5L228.5 210.8M232.2 211.2L232.0 210.8L232.0 210.6L232.4 209.9M238.3 195.3L238.4 196.1L238.6 196.0M228.4 215.9L228.6 215.4M218.0 213.3L217.7 213.5M219.1 212.5L219.5 212.3M234.3 218.9L233.7 219.2L233.6 219.8M233.5 219.1L233.7 219.8L233.4 219.8L233.3 220.2M234.0 218.4L233.7 218.2M233.7 219.1L233.4 218.8M238.5 206.7L238.3 206.4M252.8 231.4L252.7 231.3L252.9 230.6L252.8 229.7M255.2 228.7L255.3 228.0M245.9 209.2L246.0 209.7M250.4 225.7L250.4 226.5L250.8 226.9M237.1 210.3L236.2 210.3M248.6 228.4L249.2 228.8L249.5 229.2L249.8 229.0M243.8 231.9L243.7 232.8L243.5 232.9L242.8 233.2M253.5 223.4L253.3 224.1L253.1 224.5M244.8 200.5L245.1 199.6M229.6 207.2L229.3 207.4L229.5 208.0L230.1 208.2M229.8 209.9L229.5 210.5L229.2 210.9L229.0 211.1M254.7 232.4L254.3 231.9L254.4 231.3L254.4 230.6M238.8 226.0L238.6 226.2M239.4 198.1L239.5 199.0L240.0 199.2M254.9 219.0L254.8 218.3L254.4 217.7L254.4 217.1M240.5 222.5L240.0 222.9L239.4 223.3L239.0 223.8M245.7 207.7L245.4 207.8M224.0 211.3L224.2 211.0M230.0 202.6L229.8 201.9M221.4 199.9L221.9 200.2L222.2 200.5M231.8 201.9L231.5 202.3M220.6 183.2L220.9 183.1M213.9 191.6L214.0 191.4M214.6 180.3L215.3 179.9L215.4 179.4L215.2 178.9M225.4 226.3L225.3 226.5L225.5 226.7L225.6 226.8M170.8 150.7L171.2 150.4L171.6 150.5L171.9 150.3M202.9 108.3L203.7 108.9L203.9 108.6M203.1 107.3L203.1 107.5L203.2 107.6M193.1 93.5L193.3 93.1L193.0 92.8M186.9 92.5L187.3 93.4M193.5 102.3L193.9 101.7L193.7 102.6L194.1 103.4M194.3 110.8L194.4 110.9M190.0 105.4L190.1 105.9M190.5 106.7L189.7 106.2L189.6 105.6M194.7 119.1L194.6 119.2L194.9 119.8M194.7 96.3L195.4 96.0L195.5 95.8M197.7 105.2L198.0 106.0L198.5 106.0L199.0 106.0M201.3 102.2L201.0 101.7M195.5 103.5L195.9 103.8L196.0 104.2M188.6 109.1L188.4 109.2M195.6 111.2L195.7 110.3L196.4 110.0M196.7 112.3L196.4 112.0M190.3 103.7L189.7 103.2L189.5 102.9M188.0 103.4L188.3 103.7L188.4 103.5L188.7 103.2M189.7 103.6L188.7 103.5L188.7 103.1L188.6 102.9M195.7 92.9L195.8 92.7L195.8 92.4L196.4 92.5M190.5 106.5L190.8 107.0L190.4 107.7M192.8 98.5L192.7 98.3L192.6 98.1L192.2 98.1M192.4 96.3L192.7 96.3L192.4 95.5L192.4 95.2M194.2 97.5L193.4 97.3L192.7 96.8M195.2 95.4L195.4 95.7L195.6 96.1L196.3 95.7M201.1 96.5L201.4 96.8L202.1 97.0L202.5 96.7M201.8 98.4L201.7 99.1L201.8 99.8M199.1 104.4L199.0 104.9L198.6 105.3L198.0 105.9M203.0 104.7L202.4 104.4M201.7 103.4L201.9 102.7L202.0 102.3L202.6 101.8M208.3 101.7L208.0 101.3L207.3 101.0L206.7 100.4M199.1 99.1L199.3 99.2M199.0 100.2L199.4 99.4L200.0 98.8L199.8 98.5M199.4 100.1L199.3 100.3M206.4 106.9L206.9 107.1L207.1 107.2L207.1 107.6M206.1 106.4L207.0 106.3L206.7 105.3M205.5 113.1L205.5 112.2L205.0 111.8M205.3 113.0L205.8 112.7M220.0 122.8L220.0 122.4L220.5 123.2M218.6 126.4L219.6 126.4M214.3 139.2L214.6 139.0M211.7 142.7L211.9 143.2L211.1 143.2L210.9 142.3M212.6 140.3L212.5 139.4L213.2 138.9M213.4 141.2L213.9 140.9L213.9 140.5L213.1 140.7M219.6 103.8L219.5 104.0M216.6 121.2L217.0 121.4L217.4 121.2M215.0 118.2L214.8 118.3L214.9 118.9M218.1 119.4L217.2 119.8L216.5 119.7M217.9 112.7L217.7 111.8M217.7 112.8L218.0 113.3M219.6 112.8L219.5 113.0L219.3 113.2L219.3 114.1M216.8 109.8L216.4 109.5L216.6 108.9M212.8 133.5L212.5 133.9L211.8 133.5L211.3 132.9M207.0 151.6L206.5 151.8L206.3 152.1M219.8 138.2L218.9 137.8L218.7 138.0L218.1 138.8M219.5 137.5L218.6 137.1L217.9 137.3L217.2 137.4M219.1 139.3L219.5 139.1L220.1 138.7L220.4 138.8M219.1 149.1L218.5 149.4L218.2 150.3M210.8 138.7L211.5 138.7M210.6 137.6L210.7 137.8L211.2 137.7L211.6 137.5M217.1 124.2L217.4 125.1L217.2 125.4L217.2 125.6M214.5 124.9L214.2 124.9L214.1 125.3L214.1 125.5M224.0 115.3L224.2 115.6L224.1 115.0L224.0 114.9M222.5 117.1L222.5 116.2L221.8 115.7L221.5 114.9M220.6 117.8L220.8 117.5L220.8 116.5L220.9 116.0M221.5 115.2L222.1 115.6L222.8 115.5M210.5 122.0L210.4 122.3M214.9 142.1L214.5 142.4L214.0 142.4L213.3 142.7M214.1 141.3L214.0 141.6L214.5 142.2L215.1 142.9M201.5 111.9L201.3 112.1L200.4 111.8M220.2 144.4L221.1 144.5L221.8 144.7M204.4 134.2L204.3 134.0M231.6 150.8L231.8 151.0L231.9 151.4L232.2 151.6M214.2 146.9L214.3 147.3L214.4 147.4L214.6 147.6M214.8 147.5L215.1 146.7L215.3 146.7L215.7 146.7M215.0 148.8L215.4 148.4L215.0 149.2L215.0 149.4M209.7 118.1L208.8 117.9L208.5 117.6L207.8 116.9M216.7 119.1L216.0 119.6M221.5 100.4L221.9 100.1L222.5 100.0M227.8 119.3L227.7 119.7L228.1 119.9M226.9 118.7L227.5 118.6L227.8 118.7L228.7 119.2M206.2 140.4L206.3 140.5L206.7 141.3L207.2 142.2M226.3 134.0L225.7 134.4M225.7 133.2L225.9 132.9M200.8 98.6L201.6 98.6L201.6 98.8M197.3 101.3L197.3 100.8M222.9 134.4L223.1 133.7L223.1 133.5L223.1 133.8M224.6 144.2L224.7 144.3L224.4 145.0M219.6 123.4L220.1 123.6M209.6 113.4L210.0 113.3L210.4 112.4L210.7 112.7M201.3 119.7L200.4 119.8M223.1 133.2L223.5 133.2L223.8 133.3L224.0 134.0M222.3 135.1L222.0 135.3L222.0 135.6M233.4 137.2L233.2 137.2L233.0 136.7M233.0 138.7L233.3 138.1L232.7 138.3M228.4 132.8L228.6 132.6L227.7 132.9L227.4 132.3M227.9 132.8L227.3 133.5M228.8 133.3L229.2 133.6L229.1 134.5M222.4 140.5L223.0 139.8L223.0 139.1M235.7 138.4L235.6 137.9M227.2 144.1L227.0 144.0M225.6 145.9L226.1 145.5M215.8 139.3L216.2 139.4L216.8 139.8L217.2 139.9M217.1 139.1L217.4 140.0M229.1 133.9L229.2 134.1M228.0 134.4L228.0 134.2L227.9 133.5M229.2 133.4L229.4 133.5L229.6 133.7M228.0 134.9L227.8 135.4L227.4 136.2M227.4 135.6L226.8 135.2L226.9 134.3M226.8 134.5L226.5 134.6M227.0 115.9L227.3 115.3L227.6 115.1M228.2 113.3L227.9 114.1L227.5 114.4M319.2 161.0L318.9 161.2L317.8 160.7M320.8 160.5L321.1 160.6M320.9 159.4L321.3 159.3M316.8 149.3L316.4 148.5L317.2 148.1L317.4 148.0M315.5 150.1L315.1 150.3M321.4 158.2L321.7 158.8M315.5 153.2L315.9 153.8L316.6 154.7M316.9 154.7L316.7 155.4L316.9 155.7M319.5 155.0L319.6 154.5L320.5 154.0M314.2 148.6L314.0 147.6L313.9 146.7L313.3 146.4M317.1 157.0L317.7 156.6L317.6 155.3L318.4 155.7M311.6 149.5L311.1 149.7L310.8 148.7L311.3 148.4M347.7 137.6L347.2 138.4L347.2 138.6L347.7 139.6M348.3 135.6L347.4 135.3L346.6 135.4M384.3 121.1L383.6 121.1L383.6 121.7L383.8 121.0M378.0 121.1L378.3 121.2L379.1 121.5M381.2 120.6L380.9 121.0M379.8 120.7L379.4 120.2L378.6 120.0M370.6 121.2L370.4 121.3L370.2 122.0L369.6 122.7M373.6 121.2L374.1 121.8M381.5 118.2L382.4 118.1L383.0 117.8L383.8 118.3M371.7 131.3L371.3 131.5L371.5 131.5L371.5 132.6M369.6 128.9L368.9 129.4L368.3 128.7M373.6 120.2L374.5 119.7M370.8 118.8L371.3 119.4L371.9 118.7M371.1 119.9L370.4 119.4L369.9 119.3L369.4 119.2M356.4 169.1L357.4 169.1L357.6 168.9L357.3 168.4M355.3 171.0L355.2 172.2L356.0 172.9M362.2 181.0L362.3 180.6L361.6 179.9L361.2 180.4M334.0 165.6L334.4 164.9L333.7 164.1L333.3 163.9M332.6 169.1L332.3 169.1M341.4 162.6L340.8 163.3L341.0 163.8L341.3 164.7M350.4 182.9L350.5 184.0M351.4 176.7L351.9 176.2L351.9 175.6L352.3 175.5M356.6 172.0L356.2 171.6M355.3 172.7L355.2 172.2L355.5 172.0M355.2 172.2L355.1 172.4L354.0 172.2M353.8 173.4L354.3 173.5M354.1 173.1L355.0 172.9L355.4 172.7L355.8 172.6M341.9 163.1L341.4 163.3L341.7 163.4M343.5 162.4L343.4 162.0M341.1 171.5L340.8 171.7L340.5 171.5M315.4 169.6L314.4 169.3L313.9 169.2M314.4 171.7L314.7 171.3L314.8 171.2M313.3 174.5L313.1 173.3L313.8 172.9M312.3 173.5L312.3 173.4L311.9 173.1M312.9 171.5L312.9 171.9M311.5 166.9L312.2 167.5L312.6 167.7L313.3 167.7M313.5 164.6L313.4 164.3M312.6 166.5L312.2 166.9M356.5 143.3L356.8 144.2L356.4 144.7M355.7 144.0L355.3 144.1L354.7 144.6M356.9 143.5L356.4 143.7L356.2 144.2L355.8 144.9M367.1 144.0L366.8 144.3L367.2 144.9M368.0 142.3L368.3 142.4L368.9 142.8M367.5 143.6L367.7 143.7L368.0 143.5L368.7 143.2M347.8 195.7L347.2 195.6L346.7 195.1L346.7 194.9M348.4 192.3L349.4 192.2M352.9 215.8L353.5 216.6M352.6 215.9L351.7 216.2M366.2 191.2L367.3 191.2L367.7 191.3M350.4 185.3L349.8 185.7L349.6 185.7L349.1 185.7M356.1 210.9L356.2 211.3L357.3 211.7L357.6 211.7M353.7 211.1L354.0 210.0M355.6 211.0L354.9 210.4L355.1 209.9L355.4 210.0M335.5 196.6L335.3 196.8L334.7 197.2L334.8 197.4M334.8 196.5L335.6 196.6L336.6 196.5L336.9 196.4M334.0 195.9L334.9 195.6L334.8 195.2L334.7 194.8M335.3 196.1L336.2 196.9M360.3 188.3L361.0 188.3L361.8 187.4L361.9 187.4M347.6 189.8L348.2 189.8M348.6 189.0L349.6 188.8L350.2 189.2M332.9 191.8L333.2 192.1M329.2 189.7L328.6 189.8M360.8 205.1L360.5 205.6L360.1 206.3L359.8 206.9M357.4 212.8L358.2 213.8L358.3 214.1M358.7 204.0L359.2 204.0L359.5 204.1M362.8 208.4L362.6 209.4M357.0 197.1L357.4 196.5L357.7 196.5L358.4 196.5M358.0 201.5L358.7 201.8L358.7 200.5M352.3 201.3L352.6 201.6L352.6 201.9M353.4 199.9L353.3 198.6L353.3 197.6L352.7 197.2M358.6 211.1L360.0 211.4M354.2 209.4L353.8 209.4L352.8 209.3M353.2 199.1L352.4 199.7M351.3 202.0L352.0 201.5L352.0 201.2M351.2 202.0L350.5 201.2M347.5 199.7L346.6 198.7L346.5 198.5M360.0 207.4L359.2 206.1L359.3 206.0L358.8 204.9M360.0 206.2L360.0 205.7L360.4 205.7M355.3 200.5L355.2 200.8M354.7 203.1L354.8 203.0M345.1 204.6L345.5 203.4L346.3 202.3L346.7 202.2M346.2 206.7L346.7 206.0L347.4 205.8L348.4 204.9M345.8 207.0L345.6 207.2L345.8 208.1L344.8 208.7M359.7 207.9L361.1 207.8L361.2 208.0M360.1 208.8L360.9 209.4M346.0 206.8L345.7 206.8L345.1 206.8M346.8 206.0L347.8 206.8L348.3 206.2L348.2 206.0M355.1 202.2L354.9 202.9M350.1 208.1L350.6 206.8L351.5 207.1L351.8 207.5M349.2 209.0L349.3 208.6L349.9 208.9L350.1 209.0M369.3 205.8L368.6 206.1M368.2 200.4L367.7 200.7L367.8 201.7L367.7 202.0M381.1 215.3L381.1 216.2L380.5 216.8L379.6 217.3M382.2 214.5L381.9 214.4L380.9 214.8L380.8 214.0M379.0 203.9L378.9 203.4M380.7 218.5L380.5 217.4L380.4 217.3L380.2 216.8M447.9 98.6L447.8 99.8L447.3 100.4M431.3 98.1L430.8 97.8M444.8 99.6L443.9 99.8L443.4 99.8M431.8 116.0L431.7 115.7L432.5 114.8L431.4 114.2M441.1 92.1L440.7 92.1M419.8 86.3L420.3 86.9L420.9 87.0L421.1 87.9M420.6 113.8L420.2 113.5M423.2 114.3L423.7 113.6M433.1 103.3L433.1 103.7M425.5 95.8L424.4 95.5M426.9 101.4L427.4 101.6M431.0 99.8L431.3 99.0M434.6 94.2L434.2 94.7L434.5 94.7M440.8 108.9L439.7 107.8L438.6 107.4M431.1 104.3L431.0 103.7L430.8 103.3M442.6 101.0L442.6 100.3L442.7 101.7M421.5 118.4L421.0 117.9M429.7 92.6L430.2 92.9M434.5 90.7L434.4 90.6L434.1 88.9M434.7 91.7L435.7 90.2M422.8 96.8L422.7 97.3L421.6 97.4M422.8 98.2L421.8 97.8L421.4 98.0L421.1 98.2M405.6 98.8L406.2 97.9M415.1 102.8L415.5 102.5L416.4 101.9L417.0 102.3M413.9 101.8L414.0 101.6L413.4 101.3M382.3 129.2L382.5 129.1M380.1 127.9L380.3 127.8M380.8 127.8L380.6 126.8L379.7 126.1M375.3 125.4L376.1 125.6L377.1 126.1L377.8 126.7M413.8 111.4L414.0 111.4L414.4 111.3L415.1 111.4M425.9 116.5L425.7 115.4M419.4 122.0L419.1 123.1L418.4 123.2M387.8 106.3L387.5 106.6L387.3 106.6M438.8 107.6L439.1 107.2L438.0 106.8M430.0 110.7L429.9 111.6L428.9 111.2M433.9 106.4L434.2 105.8M420.8 159.8L420.9 160.0L420.2 160.9M416.0 160.7L415.7 160.9L414.4 160.8L413.7 160.5M418.4 153.1L418.2 153.6L417.9 153.9M421.3 155.7L421.5 155.6M424.2 156.4L423.7 156.8M425.1 157.4L425.1 157.1L425.1 156.0M425.9 162.7L425.8 162.9L425.4 163.0M408.2 181.0L408.0 181.0L407.3 181.7L406.8 182.2M418.9 170.5L419.9 170.0L420.3 170.1L420.5 169.8M416.9 173.7L417.1 172.6L417.3 172.3M419.4 168.9L419.5 169.7M408.9 173.9L409.4 174.2L409.8 173.9M407.9 170.1L408.7 170.6L409.4 170.1L410.0 169.5M410.8 185.0L410.4 184.9L410.1 184.1M411.1 200.9L411.4 201.3L412.1 200.9L412.5 200.5M410.2 200.0L409.2 200.3L408.7 200.8L408.4 201.1M410.6 202.8L409.8 202.0M410.8 200.7L409.8 200.3L409.9 200.0L409.8 199.7M411.5 199.6L410.8 199.8L410.3 199.3M408.8 198.6L408.9 198.0M404.7 209.5L404.1 209.7L403.3 209.6M401.1 195.8L400.9 196.3L399.7 196.6L399.2 196.4M412.2 207.8L412.1 208.0M410.2 205.2L410.1 205.3M411.4 204.2L411.1 204.2L410.4 204.3L409.5 204.4M405.4 201.2L404.6 202.1M408.0 200.9L408.0 201.1M395.0 190.3L395.3 191.0L395.4 191.3L395.1 191.8M391.3 185.9L391.6 185.9L392.5 185.5L392.2 185.2M389.1 206.6L389.2 206.3L389.9 205.9M386.6 209.6L387.1 209.1M381.9 216.1L382.3 216.6M390.5 203.9L390.4 204.0M390.5 204.6L390.4 204.8L390.7 205.4L391.0 205.6M388.2 219.0L388.1 218.8L387.4 219.0L386.8 219.4M390.7 216.6L390.5 216.0M393.8 224.6L394.8 224.6L394.7 224.1M429.8 145.4L429.6 146.1L429.7 146.6M432.5 134.1L432.7 134.1M427.3 137.2L427.2 137.7L427.5 137.6L428.1 136.9M425.0 139.3L425.3 139.6L424.8 139.9" fill="none" stroke="#fff" stroke-width="0.9" stroke-linecap="round" stroke-linejoin="round"/>
<path d="M153.7 124.7L154.4 123.8L153.9 123.3M153.0 123.6L153.6 123.9L154.0 124.6L153.3 124.8M153.8 121.9L153.6 121.5L153.1 121.3M155.1 122.0L154.3 122.6L153.8 123.5L153.4 123.0M162.5 133.2L163.6 133.3M161.2 134.3L161.6 135.4M162.9 138.2L162.5 137.6M163.0 124.9L163.2 125.7L162.2 126.3M165.8 124.8L166.1 124.0L165.9 123.0L166.6 122.2M165.4 133.2L166.1 133.4L166.1 134.1M163.7 132.0L163.9 132.8L164.7 132.9L165.3 132.7M165.2 131.9L165.2 132.6L165.1 133.1L164.0 133.7M172.5 126.1L172.1 126.6M168.1 129.7L168.1 129.4L167.2 128.9M168.3 128.9L168.0 128.9L167.9 129.0L167.8 130.2M166.2 126.4L166.0 126.5L166.9 127.1L166.8 128.1M168.5 130.3L168.5 129.8L169.3 128.8L169.7 128.5M169.5 130.4L170.5 130.4L170.7 129.6M171.6 131.9L170.8 132.2L170.2 132.7M171.3 131.9L171.9 131.0L171.7 130.2M171.2 136.3L171.2 135.5L170.9 134.9M171.2 133.7L170.1 133.0L170.1 132.8M171.7 131.7L171.9 131.8L172.2 132.3M166.8 129.5L166.8 130.3L167.5 129.6L167.4 129.5M166.1 129.7L165.8 129.7L165.8 130.0L165.9 130.3M166.9 127.6L167.4 127.6M179.2 143.4L180.2 143.5L180.8 144.0M180.9 155.8L180.3 155.8L179.7 156.4M179.1 145.4L178.9 145.8L179.0 146.5M190.9 160.1L189.9 159.4M187.6 166.7L187.6 167.2L187.1 167.9L187.6 168.7M190.9 153.2L191.4 153.5M191.4 151.1L191.6 151.6L192.4 152.2L191.6 153.2M184.6 161.3L184.1 161.4L184.1 162.1L184.5 163.2M181.8 157.8L181.7 157.5L181.4 157.2M187.1 158.6L187.3 158.6L187.7 158.9L188.9 159.4M191.6 156.3L191.4 157.1L190.6 157.6M191.3 160.6L191.3 159.8L192.2 159.2L193.0 159.4M194.1 158.6L194.3 157.7L193.8 156.8M191.1 151.8L191.3 153.0M201.0 169.0L200.8 169.3L200.4 170.2M200.6 168.3L200.1 169.0L199.1 169.5M202.2 169.2L202.1 169.5L201.0 169.9M201.0 169.5L202.2 169.7L202.5 170.4L203.1 171.0M200.7 169.8L201.4 168.9M202.2 167.9L201.8 167.3L202.1 166.5M198.2 157.6L198.0 156.4L198.2 155.9L197.8 155.9M195.8 163.2L196.6 163.6L197.1 162.6L197.9 162.5M193.2 170.7L193.5 171.3L193.9 171.2M192.2 171.8L192.3 171.0L193.0 171.6M203.3 157.7L202.6 156.9L202.9 155.7L203.2 155.2M199.4 164.5L199.0 164.9L198.8 165.3M200.5 163.3L200.4 163.6L200.6 163.9M193.9 166.5L194.6 166.0L194.8 166.0M193.9 166.4L194.7 165.5L195.2 164.9M187.0 156.6L186.6 156.6L185.5 156.8M187.1 156.3L187.5 155.1M183.9 149.0L183.8 149.5L184.1 150.0M191.0 157.4L191.5 157.7M182.9 161.7L182.7 161.1L181.7 161.4L181.6 160.9M207.7 175.2L207.3 176.4L206.7 177.1L206.3 177.3M200.2 169.9L199.7 168.9L200.3 168.2M205.7 186.4L205.5 185.9M199.7 179.7L200.3 179.2L201.0 179.7M197.1 181.5L197.2 181.0L196.9 180.9L196.7 180.1M199.6 179.9L199.5 179.1L199.1 178.3M215.0 180.6L214.8 180.5L214.1 181.4L214.1 182.5M216.0 180.7L216.2 180.4M215.2 171.8L214.8 171.8L214.8 172.2L214.7 172.4M212.2 159.0L212.1 159.3L211.9 159.6M213.8 158.0L214.7 157.2M199.6 163.4L198.8 164.1M200.7 162.8L200.7 163.4M198.9 165.6L198.0 165.0L197.6 164.9L196.6 164.3M208.3 177.1L208.3 176.8L208.2 176.7L207.5 175.9M210.0 178.5L209.8 179.6L209.4 180.7L209.6 180.7M208.8 177.2L208.7 176.6L208.8 176.2M208.3 160.8L208.6 160.0M211.4 189.6L210.8 189.3L210.5 189.2M213.1 191.9L212.6 191.2L212.7 191.1L213.1 191.8M223.8 189.7L224.8 189.2M207.7 188.7L208.8 189.1M207.4 189.7L207.5 189.8M208.3 189.5L208.9 188.9M214.6 198.0L215.2 197.9L216.1 197.5M215.3 202.9L215.1 202.7L214.2 202.6M215.3 201.1L215.1 200.1L214.7 200.0L214.8 200.4M210.1 199.5L210.2 200.3M232.3 193.5L231.5 193.1M229.2 193.6L229.5 193.2L229.4 192.5L229.2 192.5M229.7 196.4L229.6 196.5M233.6 192.8L234.5 193.0L234.2 193.8M230.7 223.2L229.7 222.7M238.2 212.2L238.0 211.6L237.3 210.9M236.6 213.1L237.0 213.3L237.3 213.9L236.9 214.8M220.4 217.5L220.0 218.6L219.2 218.6M237.0 214.9L237.9 214.5L238.3 214.5L238.8 214.9M239.5 211.9L239.9 212.8L240.1 212.8M212.6 176.6L213.3 176.1L213.7 175.5L214.4 175.2M216.0 180.0L216.6 179.4M214.9 178.7L214.8 178.8L214.4 179.5M221.2 197.6L221.0 197.5M221.3 198.5L222.1 199.3L223.1 198.7L223.1 198.2M220.3 199.3L220.7 200.3M221.4 197.5L221.1 196.9M220.7 196.4L221.5 196.8L221.7 196.9M200.2 188.6L200.4 188.8L201.1 189.8M199.7 185.1L200.3 185.9L200.4 185.7L200.6 186.0M215.9 196.4L215.3 197.2L214.6 197.2M214.8 195.2L214.8 193.9M204.0 189.6L203.9 190.2M205.8 188.4L205.9 188.5M210.7 197.8L210.7 197.0M207.8 201.0L207.0 201.7M231.8 196.1L230.7 195.9L230.0 195.8M202.5 199.9L202.0 199.3M204.7 202.4L205.9 202.7L206.0 203.0M204.1 201.0L203.2 200.9L203.3 199.9M205.6 201.3L206.2 202.0L206.0 202.1M204.4 199.9L205.0 199.1M210.6 190.8L210.1 191.7L210.1 190.9L209.0 190.3M212.2 190.7L211.9 190.2L212.1 190.4M213.1 187.4L213.3 187.0L213.1 186.1M211.6 185.8L211.1 185.1L211.5 184.5L211.9 183.9M213.7 186.4L213.8 186.2L214.8 186.0M213.3 201.2L213.0 201.4M216.0 200.4L214.7 200.3L213.5 199.7L212.5 199.2M216.8 202.6L215.9 203.3L215.5 203.9L214.7 204.4M221.2 181.8L220.0 181.7M222.4 182.6L222.3 182.4M199.6 200.1L199.4 200.3L199.1 200.9M200.4 199.8L200.7 200.3M220.7 192.2L219.6 192.1L220.0 193.1L220.4 193.4M219.2 195.0L219.0 195.1M219.6 196.9L219.2 197.2L218.6 197.1M232.4 207.9L232.2 207.4L231.6 206.8L231.5 206.6M221.7 212.8L221.6 213.2L221.3 214.1L222.0 213.8M233.8 218.5L234.4 217.6M239.1 207.2L238.2 206.8L238.0 206.5L238.6 205.6M320.1 160.3L320.5 160.3L320.6 159.8M318.7 154.5L317.8 154.3L318.0 154.8M315.4 153.0L315.7 154.2L315.4 154.2L315.3 153.8M311.3 154.6L311.3 154.9L310.8 155.1M314.3 152.2L313.8 151.1L313.6 150.8M317.2 148.7L318.2 149.4L318.4 149.4M312.1 156.3L311.7 156.1L311.6 155.8M313.3 159.5L312.3 158.6M315.4 162.7L315.3 161.4M316.6 161.9L317.2 162.1L317.8 162.8M353.2 137.8L353.7 136.9M383.9 122.9L384.1 122.7M379.7 122.3L379.8 123.3L379.9 124.1M381.1 119.2L382.1 118.6L382.3 118.3M375.5 119.9L376.8 119.6L376.6 119.4M373.2 119.7L372.5 120.1M380.6 119.2L381.6 118.6M382.4 117.6L381.9 118.1L381.7 118.5L381.6 118.8M379.2 117.8L380.0 118.6L381.0 119.4L381.1 118.3M380.6 118.6L380.6 118.0L381.0 116.8M380.2 119.3L380.0 118.1M382.4 119.9L381.9 118.6M371.4 128.3L372.7 128.7M370.3 128.3L369.7 127.8M372.0 116.5L371.7 116.3L370.9 116.2M373.8 119.5L373.1 119.5L373.1 119.7M374.1 118.5L373.8 118.9L373.2 119.0M371.2 118.3L371.4 118.1L372.4 117.8L372.0 117.0M373.8 119.8L373.3 118.8M354.8 171.0L354.5 171.0M330.3 166.0L329.3 165.6L329.1 165.5L328.8 165.2M340.1 161.5L340.9 162.1M345.2 164.6L344.8 164.1L344.9 163.4L344.9 163.2M352.7 177.9L353.2 177.8L353.5 177.7M355.4 174.5L355.0 174.7M342.2 163.3L342.0 163.4M314.3 173.2L314.1 174.2L313.9 174.5M314.8 174.3L313.8 174.1M311.8 178.1L312.2 178.8L312.5 179.3L313.2 179.4M311.3 166.2L311.5 166.0L312.2 165.8M341.5 194.9L342.5 195.1M340.2 194.5L340.1 193.9L339.8 193.7M352.4 215.4L352.9 215.2L352.2 214.3L352.0 214.1M364.4 191.5L364.1 190.7L363.8 190.0M367.7 189.8L367.7 190.0L368.3 190.9M351.3 183.2L351.6 183.2L352.2 183.3M353.5 209.5L354.6 209.7M349.9 202.4L350.7 202.2M350.5 201.2L350.5 201.3M349.0 204.1L349.3 203.5L349.9 202.8M335.1 196.1L335.4 195.9L335.6 195.8L335.5 196.1M335.4 196.9L335.7 196.9M359.5 189.6L359.8 190.0L359.6 190.5L359.9 191.0M340.1 185.9L340.7 186.9M341.0 190.2L341.4 190.5M339.7 191.3L338.9 191.2M338.9 190.1L338.3 190.6L338.5 191.3M347.8 191.2L347.8 191.0L347.2 190.6M358.8 198.3L359.0 197.5L358.7 197.6M362.1 207.8L362.8 207.2M360.7 210.4L360.3 210.4M354.9 209.4L354.6 210.5L354.7 210.6M358.2 200.2L359.0 199.7M359.2 199.8L359.6 199.1M360.9 209.3L361.5 209.0M354.6 197.8L355.4 197.6L354.9 196.8L354.0 196.7M357.5 198.3L357.5 199.3L358.6 200.1L358.4 200.2M357.5 197.3L357.5 197.8L357.7 199.0L358.6 198.0M355.9 197.2L355.8 198.4L356.8 199.4M353.1 194.1L353.6 194.6L354.7 194.6M352.0 208.3L353.3 207.7L353.7 207.6L354.1 207.3M356.4 199.4L356.7 199.4L356.6 200.2M352.4 200.1L353.1 199.4L353.4 199.2L352.8 198.4M358.9 211.2L359.5 210.8M359.3 212.2L359.0 211.0L358.5 210.9M358.7 211.1L357.9 212.1L357.2 211.3M350.7 201.2L350.5 200.4L350.7 200.1M351.1 197.5L351.0 197.0L351.0 196.1L350.4 195.1M346.1 197.6L346.2 197.0L346.5 196.5M348.7 195.5L348.6 196.3L348.2 196.4L348.0 196.3M349.4 196.1L349.2 196.2L348.3 196.1M344.5 195.7L344.5 195.0L344.4 194.8L343.4 194.3M349.3 198.4L350.2 198.9L351.2 199.0M359.4 206.8L358.7 207.1M358.6 206.6L358.6 206.3M360.3 206.6L360.7 206.6L361.3 206.1L362.6 206.6M356.6 201.1L357.1 200.8M357.1 204.4L357.9 205.3L358.6 205.8M356.6 203.2L357.0 202.6M362.8 206.9L363.0 208.0L363.2 208.9M362.5 203.9L362.9 203.8L363.4 204.2L364.3 204.8M364.6 209.1L363.9 208.7M353.7 200.7L352.6 201.0L351.6 201.5L350.6 200.9M353.3 202.1L353.8 202.4L355.1 202.2L354.4 201.8M348.0 209.9L348.9 210.2M357.6 208.5L357.6 208.9M357.5 210.0L358.3 208.9L358.3 208.6L358.0 208.7M345.8 205.5L345.6 206.0L345.1 207.1M354.4 204.9L355.5 205.3M363.5 202.6L363.1 204.0L364.2 204.6L364.2 205.0M364.1 200.4L363.1 200.8M364.4 211.9L363.6 212.3M367.9 213.2L367.0 212.7M446.2 101.0L446.1 99.8L445.7 98.8L446.5 98.3M449.6 96.9L449.0 95.6M443.4 95.5L443.9 94.9L443.9 94.7M446.6 100.1L448.1 100.1M445.0 100.5L445.2 100.4L445.5 99.8L445.4 99.0M431.3 113.4L431.3 113.6L432.3 113.7M432.1 113.7L432.9 113.6L434.2 113.4M432.2 113.7L432.1 113.3M432.4 115.2L433.3 114.3L433.8 115.4M441.3 91.1L440.2 90.9L439.6 91.7M437.8 90.6L437.6 90.5M440.4 91.0L440.7 91.0L440.9 90.6M439.2 92.2L438.2 91.9L436.7 91.7M438.4 108.7L438.5 108.6L438.6 107.8M421.0 86.3L419.7 86.8L418.5 86.0M419.9 88.5L420.7 87.2M421.2 114.1L421.2 114.6L421.8 114.7M422.8 113.6L423.8 113.8L424.1 114.8L425.3 114.7M445.7 97.8L444.9 97.3L444.3 97.2M438.2 106.4L437.6 105.8L436.9 104.4M438.8 103.3L439.2 102.6M439.1 103.9L438.6 103.9L437.2 104.2M439.9 102.9L438.9 103.2L438.7 104.2L439.2 105.0M437.9 101.9L437.2 103.0M433.1 101.7L433.3 101.7L433.0 102.4L432.6 103.5M433.6 101.8L433.8 101.9L434.2 101.3M434.3 101.2L435.6 101.9L436.0 101.7M433.1 102.4L433.2 102.2L434.4 101.3M416.8 110.2L416.5 109.1M418.7 110.5L418.6 110.7L419.3 111.1L420.6 112.1M418.6 110.0L419.0 110.9M424.1 103.0L424.9 103.5L424.5 103.9M427.0 99.9L426.6 101.3L426.5 99.8L427.8 99.0M435.6 100.8L435.6 101.0L435.1 101.2L434.9 102.6M434.6 102.0L434.9 103.2M435.2 101.0L436.2 101.7L437.7 102.2M424.1 100.4L423.7 99.8L423.2 99.4L422.6 99.6M422.6 102.7L422.8 101.9M437.2 94.5L437.8 94.0L438.0 94.1M440.4 109.8L440.4 108.8M429.7 105.3L430.8 105.6L431.9 104.6L433.3 104.2M443.2 101.9L442.7 100.9L441.7 99.8L441.9 99.6M442.2 102.5L442.5 102.6L442.2 102.9L441.9 103.2M443.3 102.2L442.3 102.9L440.9 103.1M439.5 103.3L438.1 103.4L437.8 104.6M440.5 104.1L441.8 105.0L442.2 105.3M440.9 103.4L441.5 103.5L441.9 104.2M441.1 103.1L440.9 103.8L439.9 104.8L439.3 105.2M418.0 117.1L418.6 116.9M427.4 90.0L427.6 90.2L428.3 91.1M443.7 91.2L443.4 91.0L442.6 91.2L442.5 92.1M443.0 91.3L442.3 91.1M432.2 91.5L432.7 90.9L433.4 91.0M439.1 95.1L439.7 94.8L441.7 94.2M440.6 92.7L439.4 92.0M440.3 92.5L440.7 92.7M438.8 102.2L437.3 101.8M438.8 102.4L439.9 103.7M439.2 102.6L439.1 101.1L439.5 99.6M436.0 93.2L434.3 92.6L433.3 91.8M442.0 91.8L442.0 91.4L443.4 90.6M435.6 93.6L435.2 92.6L435.0 92.5M431.7 92.3L431.9 90.8L431.3 89.7M417.5 95.3L418.5 95.8L418.5 95.3M414.1 101.1L414.0 101.9L413.7 102.0L412.6 102.3M373.7 122.7L373.8 122.2M373.1 122.8L373.5 123.4L373.0 123.8M371.6 123.0L371.4 122.3L372.6 122.2M376.9 135.6L377.2 134.8L377.3 134.6M379.1 128.0L378.8 126.9L379.1 126.6L379.8 125.8M379.0 126.7L378.9 126.1L378.8 125.0M378.5 134.2L378.9 134.1M375.2 126.8L375.6 125.9M376.7 125.7L376.8 125.6L376.3 124.8M369.4 130.9L369.1 131.6L368.2 131.9M371.3 132.5L371.0 132.4M412.3 113.4L412.3 113.1M426.6 116.1L426.5 116.7L426.7 117.1M426.1 115.9L426.3 116.0L426.5 115.7M417.8 121.8L417.0 122.5M420.8 113.4L420.0 113.5L419.9 113.4L420.0 113.0M422.4 112.4L422.5 112.7L423.0 112.8M423.9 111.2L424.6 111.2M435.1 108.3L433.9 108.3L433.2 108.5M435.7 107.5L436.1 108.8L436.2 109.4M431.9 111.2L431.6 112.3L431.2 113.1M432.5 109.2L432.4 109.6L431.4 111.0M433.6 110.3L432.6 109.7L432.9 108.6L432.9 108.2M431.7 109.7L431.3 108.1L432.6 106.9M418.0 160.0L418.2 160.1M416.2 163.0L417.1 163.5L417.2 163.6L417.4 162.3M417.1 161.0L416.8 161.3L416.7 161.5L416.2 161.5M417.0 161.2L416.6 162.4M419.7 162.3L419.8 162.1M417.3 163.6L417.5 163.0L417.6 162.6L418.1 162.8M421.3 159.1L421.0 159.0M419.4 161.1L420.1 161.6M418.9 155.7L418.3 155.9L418.4 154.7L418.3 154.3M419.7 157.0L419.9 157.2L421.0 156.7M420.5 156.1L420.8 154.9L421.5 154.4L422.1 154.9M419.8 156.1L419.4 155.7L419.1 155.2L418.5 155.3M422.5 156.9L422.3 156.3L422.6 155.3M425.5 162.5L425.3 161.8L425.2 161.1L424.6 160.4M427.0 163.3L426.7 163.4L425.6 163.2M419.1 172.9L418.8 173.1M410.4 202.8L411.6 202.9L412.0 203.1M410.5 204.0L410.5 203.6L410.5 202.4L410.5 201.7M405.2 210.5L405.1 210.6L404.4 210.2L403.8 209.5M404.4 209.9L404.6 210.3M403.9 194.4L403.3 194.9L403.2 194.8L403.6 193.8M403.3 196.1L402.7 196.6L402.2 196.9M410.7 203.5L410.5 203.9M414.3 204.8L415.2 205.3M404.3 201.4L404.6 200.8L404.9 200.6M389.0 216.8L388.3 216.9L388.2 217.4M388.1 217.1L388.8 217.5L389.4 217.5" fill="none" stroke="#fff" stroke-width="1.2" stroke-linecap="round" stroke-linejoin="round"/>
<path d="M358.0 198.2L358.3 198.6L357.4 198.9M356.3 200.1L356.7 199.8L356.4 198.9M360.2 211.3L361.1 212.4L362.0 211.3L362.7 210.3M365.6 209.7L365.0 209.2L364.6 209.1M430.6 96.3L431.0 95.1L431.7 94.3L431.7 94.2M444.2 96.2L445.3 96.0L446.4 97.1L446.4 96.9M440.9 91.1L440.9 91.3L441.2 91.9M437.6 106.8L437.8 106.0L438.3 105.1M420.7 86.7L419.1 87.1M439.8 100.1L439.7 101.1L439.1 102.2M441.2 104.5L442.3 105.5L442.2 105.8M435.3 99.5L435.1 99.4L433.7 100.1L432.7 100.5M424.9 102.0L425.9 102.2L426.2 102.4M425.1 101.6L425.1 103.0M437.7 97.6L438.7 97.1M441.0 110.6L440.8 110.4M443.2 101.9L442.8 101.0M440.1 104.3L440.7 105.5M420.3 116.7L420.5 115.2M427.9 91.6L427.2 90.3M428.1 92.0L429.0 92.7L429.4 92.1L431.1 91.2M432.1 92.7L432.0 91.9L431.3 91.3L430.6 91.3M440.1 97.9L439.2 96.8M438.2 98.7L438.7 100.0L437.7 100.2M438.5 97.1L438.0 97.0M439.8 91.3L439.0 89.8M441.3 101.7L440.8 100.4L441.3 100.4M438.4 101.3L438.2 103.2L438.7 102.8M437.4 103.0L438.5 102.2M439.9 101.7L438.9 101.9L438.8 101.7M436.1 91.9L435.5 92.3M428.9 88.0L429.2 87.6L429.1 86.1M431.8 91.5L430.7 91.0L429.9 90.8M431.4 89.1L431.8 90.2L432.5 89.7L432.8 89.2M430.4 90.2L431.4 89.5M442.9 92.9L443.4 92.6L443.8 92.9L443.8 93.1M441.7 91.5L440.9 91.9L440.8 92.3L441.4 93.1M440.1 92.4L441.2 92.0L441.9 91.4M438.8 92.4L437.7 93.8M432.5 91.1L433.1 91.3L433.9 92.2M432.2 89.1L433.6 90.6L434.1 90.9M431.8 90.4L433.4 90.9M425.6 88.7L427.4 88.3L427.7 88.1L428.3 87.0M424.1 86.9L423.9 86.9L423.0 86.6M424.5 86.4L423.6 88.3M438.5 108.8L438.0 108.6M437.1 105.3L436.7 106.3L436.3 107.5L435.6 109.0M437.0 108.1L437.9 107.9L438.4 108.7M431.4 110.8L430.4 109.9M434.4 106.8L434.6 108.5L433.4 108.8L431.9 109.1M433.4 108.7L434.1 108.8L435.2 109.4M432.2 108.4L431.9 107.2M418.3 160.7L417.1 161.5" fill="none" stroke="#fff" stroke-width="1.8" stroke-linecap="round" stroke-linejoin="round"/>
<path d="M326.2 148.2 L333.5 148 L334 152 L331 154.5 L327 153.5 Z" fill="#fff"/>
<path d="M112.4,93.0 L115.0,91.0 L119.0,91.6 L124.0,95.6 L130.0,97.4 L136.0,96.4 L142.0,97.0 L147.0,99.0 L150.0,103.0 L153.0,108.0 L157.0,113.0 L162.0,118.0 L168.0,121.6 L174.0,125.0 L179.0,129.6 L184.0,134.0 L188.0,139.0 L191.0,142.4 L194.0,141.6 L196.0,140.4 L198.0,141.6 L200.0,145.0 M112.4,93.0 L111.6,96.0 L113.6,100.0 L117.0,105.0 L122.0,110.0 L127.0,115.0 L132.0,119.0 L137.0,123.0 L141.0,128.0 L145.0,133.0 L146.4,137.0 L150.0,140.0 L155.0,143.0 L159.0,147.0 L162.0,152.0 L163.6,158.0 L165.0,164.0 L168.0,169.0 L173.0,173.0 L177.0,178.0 L182.0,182.0 M119.0,131.6 L121.0,130.4 L125.0,133.6 L129.6,137.0 L128.6,138.6 L125.0,136.4 L120.0,134.0 Z M140.0,141.6 L141.2,142.0 L141.6,143.2 L140.4,142.6 Z M139.0,152.4 L142.4,150.4 L145.6,153.6 L148.0,157.0 L149.6,161.0 L148.4,164.4 L146.4,163.0 L145.0,159.0 L142.0,156.0 L139.6,154.0 Z M200.0,146.0 L205.0,150.0 L210.0,153.0 L214.0,155.0 L218.0,158.0 L224.0,163.0 L229.0,166.0 L231.0,170.0 L230.0,175.0 L231.6,178.0 L234.0,182.0 L239.0,187.0 L244.0,192.0 L246.0,198.0 L248.0,203.0 L250.0,206.0 M199.0,143.6 L201.6,142.6 L204.0,144.4 L203.6,147.2 L201.0,148.0 L199.0,146.0 Z M214.0,230.0 L210.0,226.0 L206.0,222.0 L201.0,217.0 L197.0,211.0 L193.0,204.0 L190.0,196.0 L187.0,189.0 L184.0,182.4 M157.0,173.0 L158.4,172.6 L159.2,176.4 L158.0,180.4 L156.6,179.6 L157.4,176.4 Z M160.0,188.0 L163.0,186.0 L166.0,190.0 L168.4,197.0 L166.0,198.4 L162.0,195.0 L160.0,191.0 Z M173.6,202.4 L175.2,202.8 L177.2,206.4 L175.6,207.2 L174.0,204.8 Z M180.0,210.0 L183.0,212.0 L186.4,218.0 L185.0,221.0 L182.0,217.0 L180.0,213.0 Z M227.0,153.6 L229.0,152.8 L230.0,154.4 L228.4,155.4 Z M231.6,157.2 L234.0,156.4 L234.8,158.4 L232.4,159.2 Z M236.0,156.0 L239.0,155.2 L240.5,157.5 L239.5,160.5 L237.0,161.0 L235.8,158.5 Z M240.5,155.5 L244.0,154.6 L246.2,156.5 L245.8,159.5 L243.0,160.4 L241.0,158.5 Z M243.5,169.5 L245.0,170.5 L247.0,174.0 L250.0,176.5 L248.5,177.8 L246.0,176.0 L244.0,173.0 Z M240.8,179.0 L243.5,178.0 L245.0,180.2 L243.5,182.2 L241.0,182.0 Z M229.6,176.4 L232.0,175.6 L232.8,178.4 L230.4,179.2 Z M210.0,150.0 L216.0,152.4 L219.0,155.6 L215.0,154.4 L211.0,152.4 Z M214.0,157.0 L220.0,158.0 L225.0,161.6 L220.0,161.0 L216.0,159.6 Z M217.0,163.0 L223.0,164.0 L227.0,165.6 L226.0,167.6 L221.0,166.4 Z M216.0,168.0 L222.0,167.0 L227.0,164.4 L223.0,169.0 L218.0,169.6 Z M250.0,206.0 L249.0,204.0 L247.4,208.0 L250.0,211.0 L255.0,212.0 L260.0,214.0 L264.0,218.0 L265.0,223.0 L263.0,228.0 L264.0,235.0 L265.0,243.0 L264.0,251.0 L262.0,257.0 L260.0,259.0 L255.0,258.0 L253.0,254.0 L249.0,255.0 L246.0,257.4 L244.0,255.0 L240.0,252.0 L236.0,249.0 L231.0,245.0 L225.0,240.0 L219.0,234.0 L214.0,230.0 M252.5,201.7 L256.0,197.5 L260.2,194.7 L263.7,194.0 L265.8,197.5 L267.9,201.0 L268.6,205.2 L272.1,208.7 L276.3,210.1 L275.6,214.3 L277.0,215.7 L273.5,217.1 L270.0,215.0 L266.5,212.9 L263.0,210.1 L259.5,205.9 L256.0,203.8 L253.2,203.1 Z M285.4,214.3 L287.5,210.8 L291.0,209.4 L295.2,210.1 L297.3,213.6 L295.9,217.1 L293.1,218.5 L291.7,217.1 L289.6,219.2 L287.5,217.8 L286.8,215.0 Z M210.0,249.4 L212.2,249.0 L213.6,251.4 L211.8,252.6 Z M264.0,261.0 L269.0,259.0 L275.0,260.0 L281.0,261.4 L285.0,260.6 L289.0,263.0 L295.0,264.0 L299.0,266.0 L303.0,267.0 M229.0,176.6 L232.0,176.0 L233.0,178.6 L230.2,179.0 Z M241.0,178.0 L243.4,177.4 L244.2,181.0 L241.8,181.8 Z M247.4,175.4 L249.4,175.0 L249.8,177.0 L247.8,177.4 Z M154.4,49.6 L155.4,53.6 L155.0,58.4 L156.2,60.0 L157.2,56.4 L159.0,52.2 L161.0,52.8 L163.2,56.4 L166.0,60.0 L167.4,63.4 L170.0,64.0 L174.0,69.0 L177.0,74.0 L180.0,78.0 L185.0,83.0 L184.4,90.0 L186.0,98.0 L189.0,106.0 L193.0,114.0 L197.0,122.0 L198.4,128.0 L201.8,132.4 L206.4,136.4 L212.0,140.4 L217.6,145.0 L223.4,149.0 L229.0,151.8 L233.6,153.0 L238.2,153.4 L240.4,151.8 L240.0,148.4 L237.0,142.6 L233.6,137.0 L229.6,131.4 L228.4,124.4 L228.8,117.6 L229.0,108.6 L228.0,101.8 L225.0,95.0 L223.0,95.0 L217.0,89.0 L212.0,85.0 L208.0,81.0 L202.0,77.0 L196.0,73.0 L190.0,69.0 L186.0,64.0 L184.0,58.0 L183.0,49.0 M180.7,76.7 L184.9,78.1 L189.8,80.9 L194.0,84.4 L194.7,87.9 L197.5,90.0 L201.7,87.9 L205.2,85.8 L208.7,83.7 L210.8,83.0 M175.6,78.0 L177.6,77.6 L178.4,81.0 L176.4,82.0 Z M182.6,94.0 L183.8,93.6 L184.2,96.4 L183.0,96.6 Z M237.6,131.2 L238.6,131.0 L238.8,132.4 L237.8,132.6 Z M322.0,200.0 L321.6,192.0 L320.0,188.0 L317.0,186.0 L313.0,185.0 L309.6,183.0 L310.0,179.0 L311.0,173.0 L309.0,168.0 L307.0,162.0 L308.0,155.0 L310.0,149.0 L313.0,145.0 L316.0,143.0 L319.0,146.0 L324.0,148.0 L330.0,149.0 L335.0,151.0 L338.0,152.4 L339.0,150.0 L337.0,147.0 L338.0,142.0 L340.0,138.0 L341.0,133.0 L348.0,131.0 L356.0,129.0 L365.0,126.0 L370.0,120.0 L376.0,113.0 L380.0,108.0 L384.0,109.0 L388.0,103.0 L390.0,101.0 M316.0,143.0 L317.0,147.0 L320.0,151.0 L324.0,156.0 L329.0,160.0 L335.0,158.0 L341.0,156.0 L348.0,155.0 L352.0,151.0 L357.0,148.0 L363.0,149.0 L368.0,152.0 L373.0,154.0 L378.0,151.0 L383.0,149.0 L388.0,146.0 L390.0,143.0 M294.0,114.0 L296.4,112.4 L299.0,114.4 L298.8,118.0 L296.0,119.2 L296.8,116.8 L294.4,116.4 Z M304.6,130.0 L305.6,129.8 L305.8,131.0 L304.8,131.2 Z M305.0,195.6 L306.2,195.4 L306.4,196.6 L305.2,196.8 Z M313.6,187.0 L317.0,186.4 L319.0,189.0 L317.0,191.2 L314.0,190.4 Z M390.0,101.0 L396.0,100.0 L400.0,95.0 L405.0,90.0 L410.0,84.0 L415.0,76.0 L418.0,71.0 L420.0,75.0 L422.4,71.0 L424.0,75.0 L427.0,79.0 L430.0,82.0 L432.0,87.0 L436.0,85.6 L438.0,89.0 L443.0,90.0 L447.0,93.0 L452.0,95.6 L452.4,98.4 L449.0,100.0 L445.0,100.4 L440.0,102.4 L439.0,105.0 L442.0,108.0 L440.4,110.0 L437.0,111.0 L434.0,112.0 L430.0,113.6 L428.0,112.0 L425.0,116.0 L423.0,120.0 L427.0,122.0 L430.0,125.6 L428.0,129.0 L430.0,134.0 L433.0,139.0 L435.0,144.0 L437.0,150.0 M374.0,118.0 L378.0,111.0 L379.0,107.0 L382.0,104.0 L386.0,103.6 L390.0,101.0 M428.0,112.4 L424.0,110.0 L418.0,109.6 L410.0,110.0 L404.0,111.0 L401.0,116.0 L400.0,123.0 L397.0,129.0 L394.0,132.0 L395.0,138.0 L390.4,142.4 M379.0,107.0 L381.0,110.0 L385.0,108.0 L387.0,103.0 M390.0,101.6 L391.0,106.0 L393.6,109.0 L395.0,105.0 L393.6,101.6 M421.0,56.4 L422.0,56.0 L422.6,58.4 L421.4,59.0 Z M422.4,66.8 L424.4,66.0 L425.2,68.0 L423.2,69.2 Z M424.6,51.6 L425.6,51.6 L425.6,52.8 L424.6,52.8 Z M461.2,97.6 L462.6,97.2 L463.0,98.8 L461.6,99.2 Z M437.0,150.0 L434.0,144.0 L432.0,140.0 M437.0,150.0 L441.0,153.0 L445.0,157.0 L447.0,158.0 L440.0,159.0 L435.0,160.0 L433.0,164.0 L430.0,168.0 L428.0,173.0 L429.0,179.0 L430.0,184.0 L426.0,187.0 L421.0,189.6 L417.0,193.0 L413.0,196.0 L411.0,200.0 L412.4,206.0 L413.0,212.0 L409.0,215.0 L407.0,219.0 L409.0,224.0 L407.0,229.0 L400.0,231.0 L394.0,232.4 L389.0,234.0 L387.0,228.0 L385.0,223.0 L380.0,220.0 L374.0,219.0 L370.0,217.0 M464.5,163.0 L463.0,164.8 L460.7,168.2 L461.4,172.7 L460.0,181.8 L456.1,186.4 L454.5,193.2 L453.9,198.9 L451.6,204.5 L447.7,209.5 L445.9,212.5 L447.0,218.2 L450.5,222.3 L455.0,223.9 L458.4,228.4 L459.1,235.2 L457.7,240.9 L455.5,246.6 L454.5,250.0 L456.8,253.4 L460.7,255.7 L464.5,253.0 M408.0,221.6 L411.0,220.4 L413.0,223.0 L412.0,226.0 L409.0,225.6 Z M312.0,180.0 L313.0,186.0 L315.0,190.0 L320.0,191.0 L321.0,198.0 L322.0,206.0 L324.0,213.0 L327.0,216.0 L333.0,215.6 L338.0,217.0 L343.0,216.0 L347.0,219.0 L348.0,223.0 L354.0,222.0 L361.0,220.0 L365.0,217.0 L368.0,219.0 L374.0,218.0 L378.0,221.0 L383.0,220.0 L386.0,223.0 L387.6,228.0 L388.0,232.4 M388.3,233.5 L392.5,232.1 L397.5,229.2 L403.2,226.4 L407.5,225.0 L408.9,230.7 L411.0,228.5 L410.3,223.6 L412.4,221.4 L411.0,219.3 M305.0,195.0 L306.2,194.8 L306.4,196.2 L305.2,196.4 Z M358.6,255.6 L360.0,255.4 L360.2,257.0 L358.8,257.2 Z M332.0,265.6 L335.0,265.2 L335.6,267.2 L332.4,267.6 Z M259.8,128.0 L261.4,127.8 L261.6,129.2 L260.0,129.4 Z M267.4,126.6 L268.6,126.6 L268.6,127.8 L267.4,127.8 Z" fill="none" stroke="#000" stroke-width="0.85" stroke-linejoin="round"/>
<line x1="109.06" x2="109.06" y1="49.7" y2="266.8" stroke="#b0b0b0" stroke-opacity="0.38" stroke-width="1"/>
<line x1="179.99" x2="179.99" y1="49.7" y2="266.8" stroke="#b0b0b0" stroke-opacity="0.38" stroke-width="1"/>
<line x1="250.91" x2="250.91" y1="49.7" y2="266.8" stroke="#b0b0b0" stroke-opacity="0.38" stroke-width="1"/>
<line x1="321.84" x2="321.84" y1="49.7" y2="266.8" stroke="#b0b0b0" stroke-opacity="0.38" stroke-width="1"/>
<line x1="392.77" x2="392.77" y1="49.7" y2="266.8" stroke="#b0b0b0" stroke-opacity="0.38" stroke-width="1"/>
<line y1="57.10" y2="57.10" x1="66.5" x2="463.7" stroke="#b0b0b0" stroke-opacity="0.38" stroke-width="1"/>
<line y1="86.12" y2="86.12" x1="66.5" x2="463.7" stroke="#b0b0b0" stroke-opacity="0.38" stroke-width="1"/>
<line y1="115.14" y2="115.14" x1="66.5" x2="463.7" stroke="#b0b0b0" stroke-opacity="0.38" stroke-width="1"/>
<line y1="144.16" y2="144.16" x1="66.5" x2="463.7" stroke="#b0b0b0" stroke-opacity="0.38" stroke-width="1"/>
<line y1="173.18" y2="173.18" x1="66.5" x2="463.7" stroke="#b0b0b0" stroke-opacity="0.38" stroke-width="1"/>
<line y1="202.20" y2="202.20" x1="66.5" x2="463.7" stroke="#b0b0b0" stroke-opacity="0.38" stroke-width="1"/>
<line y1="231.22" y2="231.22" x1="66.5" x2="463.7" stroke="#b0b0b0" stroke-opacity="0.38" stroke-width="1"/>
<line y1="260.24" y2="260.24" x1="66.5" x2="463.7" stroke="#b0b0b0" stroke-opacity="0.38" stroke-width="1"/>
</g>
<rect x="67.5" y="52.5" width="28.5" height="23" fill="#f2f2f2" fill-opacity="0.9"/>
<text x="74.15" y="68.5" font-size="15.3px">(a)</text>
<text x="71.6" y="257.4" font-size="12px" font-weight="bold">oil palms in white</text>
<rect x="66.5" y="49.7" width="397.2" height="217.10000000000002" fill="none" stroke="#000" stroke-width="1.1"/>
<text x="109.1" y="38.8" text-anchor="middle">95°E</text>
<text x="109.1" y="286" text-anchor="middle">95°E</text>
<text x="180.0" y="38.8" text-anchor="middle">100°E</text>
<text x="180.0" y="286" text-anchor="middle">100°E</text>
<text x="250.9" y="38.8" text-anchor="middle">105°E</text>
<text x="250.9" y="286" text-anchor="middle">105°E</text>
<text x="321.8" y="38.8" text-anchor="middle">110°E</text>
<text x="321.8" y="286" text-anchor="middle">110°E</text>
<text x="392.8" y="38.8" text-anchor="middle">115°E</text>
<text x="392.8" y="286" text-anchor="middle">115°E</text>
<text x="58.3" y="60.7" text-anchor="end">8°N</text>
<text x="470.8" y="60.7">8°N</text>
<text x="58.3" y="89.7" text-anchor="end">6°N</text>
<text x="470.8" y="89.7">6°N</text>
<text x="58.3" y="118.7" text-anchor="end">4°N</text>
<text x="470.8" y="118.7">4°N</text>
<text x="58.3" y="147.8" text-anchor="end">2°N</text>
<text x="470.8" y="147.8">2°N</text>
<text x="58.3" y="176.8" text-anchor="end">0°</text>
<text x="470.8" y="176.8">0°</text>
<text x="58.3" y="205.8" text-anchor="end">2°S</text>
<text x="470.8" y="205.8">2°S</text>
<text x="58.3" y="234.8" text-anchor="end">4°S</text>
<text x="470.8" y="234.8">4°S</text>
<text x="58.3" y="263.8" text-anchor="end">6°S</text>
<text x="470.8" y="263.8">6°S</text>
<defs><linearGradient id="vg" x1="0" x2="1" y1="0" y2="0">
<stop offset="0.0000" stop-color="#440154"/>
<stop offset="0.0312" stop-color="#470d60"/>
<stop offset="0.0625" stop-color="#48186a"/>
<stop offset="0.0938" stop-color="#482374"/>
<stop offset="0.1250" stop-color="#472d7b"/>
<stop offset="0.1562" stop-color="#453781"/>
<stop offset="0.1875" stop-color="#424086"/>
<stop offset="0.2188" stop-color="#3e4989"/>
<stop offset="0.2500" stop-color="#3b528b"/>
<stop offset="0.2812" stop-color="#375b8d"/>
<stop offset="0.3125" stop-color="#33638d"/>
<stop offset="0.3438" stop-color="#2f6b8e"/>
<stop offset="0.3750" stop-color="#2c728e"/>
<stop offset="0.4062" stop-color="#297a8e"/>
<stop offset="0.4375" stop-color="#26828e"/>
<stop offset="0.4688" stop-color="#23898e"/>
<stop offset="0.5000" stop-color="#21918c"/>
<stop offset="0.5312" stop-color="#1f988b"/>
<stop offset="0.5625" stop-color="#1fa088"/>
<stop offset="0.5938" stop-color="#22a785"/>
<stop offset="0.6250" stop-color="#28ae80"/>
<stop offset="0.6562" stop-color="#32b67a"/>
<stop offset="0.6875" stop-color="#3fbc73"/>
<stop offset="0.7188" stop-color="#4ec36b"/>
<stop offset="0.7500" stop-color="#5ec962"/>
<stop offset="0.7812" stop-color="#70cf57"/>
<stop offset="0.8125" stop-color="#84d44b"/>
<stop offset="0.8438" stop-color="#98d83e"/>
<stop offset="0.8750" stop-color="#addc30"/>
<stop offset="0.9062" stop-color="#c2df23"/>
<stop offset="0.9375" stop-color="#d8e219"/>
<stop offset="0.9688" stop-color="#ece51b"/>
<stop offset="1.0000" stop-color="#fde725"/>
</linearGradient></defs>
<rect x="66" y="296" width="398" height="10.399999999999977" fill="url(#vg)" stroke="#000" stroke-width="1"/>
<line x1="104.40" x2="104.40" y1="306.4" y2="311.4" stroke="#000" stroke-width="1.1"/>
<text x="104.40" y="328" text-anchor="middle" font-size="15.28px">2</text>
<line x1="191.90" x2="191.90" y1="306.4" y2="311.4" stroke="#000" stroke-width="1.1"/>
<text x="191.90" y="328" text-anchor="middle" font-size="15.28px">4</text>
<line x1="279.40" x2="279.40" y1="306.4" y2="311.4" stroke="#000" stroke-width="1.1"/>
<text x="279.40" y="328" text-anchor="middle" font-size="15.28px">6</text>
<line x1="366.90" x2="366.90" y1="306.4" y2="311.4" stroke="#000" stroke-width="1.1"/>
<text x="366.90" y="328" text-anchor="middle" font-size="15.28px">8</text>
<line x1="454.40" x2="454.40" y1="306.4" y2="311.4" stroke="#000" stroke-width="1.1"/>
<text x="454.40" y="328" text-anchor="middle" font-size="15.28px">10</text>
<text x="265.5" y="351.3" text-anchor="middle" font-size="15.28px">ISOP column [x <tspan font-family="DejaVu Sans, sans-serif">10</tspan><tspan font-family="DejaVu Sans, sans-serif" font-size="10.7px" dy="-6.5" dx="0.3">15</tspan><tspan dy="6.5" dx="0"> molec cm</tspan><tspan font-family="DejaVu Sans, sans-serif" font-size="10.7px" dy="-6.5" dx="1.0">−2</tspan><tspan dy="6.5" dx="0.5">]</tspan></text>
<clipPath id="hc"><rect x="55.7" y="378.5" width="418.40000000000003" height="96.10000000000002"/></clipPath>
<g clip-path="url(#hc)">
<g fill="#2ca02c" fill-opacity="0.5" stroke="#000" stroke-opacity="0.6" stroke-width="0.4"><rect x="59.88" y="474.22" width="4.45" height="0.38"/><rect x="64.33" y="473.77" width="4.45" height="0.83"/><rect x="68.78" y="473.34" width="4.45" height="1.26"/><rect x="73.23" y="472.94" width="4.45" height="1.66"/><rect x="77.68" y="471.92" width="4.45" height="2.68"/><rect x="82.13" y="470.63" width="4.45" height="3.97"/><rect x="86.58" y="468.80" width="4.45" height="5.80"/><rect x="91.03" y="466.55" width="4.45" height="8.05"/><rect x="95.48" y="463.11" width="4.45" height="11.49"/><rect x="99.93" y="459.39" width="4.45" height="15.21"/><rect x="104.38" y="455.04" width="4.45" height="19.56"/><rect x="108.83" y="446.32" width="4.45" height="28.28"/><rect x="113.28" y="439.16" width="4.45" height="35.44"/><rect x="117.73" y="430.80" width="4.45" height="43.80"/><rect x="122.18" y="427.18" width="4.45" height="47.42"/><rect x="126.63" y="421.11" width="4.45" height="53.49"/><rect x="131.08" y="414.74" width="4.45" height="59.86"/><rect x="135.53" y="412.60" width="4.45" height="62.00"/><rect x="139.98" y="400.93" width="4.45" height="73.67"/><rect x="144.43" y="404.22" width="4.45" height="70.38"/><rect x="148.88" y="401.60" width="4.45" height="73.00"/><rect x="153.33" y="396.37" width="4.45" height="78.23"/><rect x="157.78" y="389.90" width="4.45" height="84.70"/><rect x="162.23" y="394.88" width="4.45" height="79.72"/><rect x="166.68" y="400.16" width="4.45" height="74.44"/><rect x="171.13" y="399.97" width="4.45" height="74.63"/><rect x="175.58" y="397.09" width="4.45" height="77.51"/><rect x="180.03" y="403.06" width="4.45" height="71.54"/><rect x="184.48" y="409.23" width="4.45" height="65.37"/><rect x="188.92" y="412.04" width="4.45" height="62.56"/><rect x="193.37" y="414.44" width="4.45" height="60.16"/><rect x="197.82" y="416.88" width="4.45" height="57.72"/><rect x="202.27" y="428.62" width="4.45" height="45.98"/><rect x="206.72" y="431.23" width="4.45" height="43.37"/><rect x="211.17" y="435.79" width="4.45" height="38.81"/><rect x="215.62" y="442.76" width="4.45" height="31.84"/><rect x="220.07" y="444.70" width="4.45" height="29.90"/><rect x="224.52" y="448.74" width="4.45" height="25.86"/><rect x="228.97" y="449.59" width="4.45" height="25.01"/><rect x="233.42" y="453.65" width="4.45" height="20.95"/><rect x="237.87" y="457.08" width="4.45" height="17.52"/><rect x="242.32" y="457.08" width="4.45" height="17.52"/><rect x="246.77" y="459.88" width="4.45" height="14.72"/><rect x="251.22" y="462.84" width="4.45" height="11.76"/><rect x="255.67" y="464.24" width="4.45" height="10.36"/><rect x="260.12" y="465.90" width="4.45" height="8.70"/><rect x="264.57" y="467.23" width="4.45" height="7.37"/><rect x="269.02" y="468.01" width="4.45" height="6.59"/><rect x="273.47" y="469.56" width="4.45" height="5.04"/><rect x="277.92" y="469.80" width="4.45" height="4.80"/><rect x="282.37" y="470.17" width="4.45" height="4.43"/><rect x="286.82" y="470.84" width="4.45" height="3.76"/><rect x="291.27" y="471.39" width="4.45" height="3.21"/><rect x="295.72" y="471.88" width="4.45" height="2.72"/><rect x="300.17" y="472.29" width="4.45" height="2.31"/><rect x="304.62" y="472.93" width="4.45" height="1.67"/><rect x="309.07" y="473.08" width="4.45" height="1.52"/><rect x="313.52" y="473.47" width="4.45" height="1.13"/><rect x="317.97" y="473.63" width="4.45" height="0.97"/><rect x="322.42" y="473.87" width="4.45" height="0.73"/><rect x="326.87" y="473.89" width="4.45" height="0.71"/><rect x="331.31" y="473.98" width="4.45" height="0.62"/><rect x="335.76" y="474.10" width="4.45" height="0.50"/><rect x="340.21" y="474.12" width="4.45" height="0.48"/><rect x="344.66" y="474.21" width="4.45" height="0.39"/><rect x="349.11" y="474.23" width="4.45" height="0.37"/><rect x="353.56" y="474.26" width="4.45" height="0.34"/><rect x="358.01" y="474.31" width="4.45" height="0.29"/><rect x="362.46" y="474.32" width="4.45" height="0.28"/><rect x="366.91" y="474.33" width="4.45" height="0.27"/><rect x="371.36" y="474.39" width="4.45" height="0.21"/><rect x="375.81" y="474.39" width="4.45" height="0.21"/><rect x="380.26" y="474.42" width="4.45" height="0.18"/><rect x="384.71" y="474.42" width="4.45" height="0.18"/></g>
<g fill="#ff7f0e" fill-opacity="0.5" stroke="#000" stroke-opacity="0.6" stroke-width="0.4"><rect x="56.75" y="472.03" width="3.40" height="2.57"/><rect x="60.14" y="471.21" width="3.40" height="3.39"/><rect x="63.54" y="469.62" width="3.40" height="4.98"/><rect x="66.94" y="467.92" width="3.40" height="6.68"/><rect x="70.34" y="466.41" width="3.40" height="8.19"/><rect x="73.73" y="463.63" width="3.40" height="10.97"/><rect x="77.13" y="460.25" width="3.40" height="14.35"/><rect x="80.53" y="457.92" width="3.40" height="16.68"/><rect x="83.93" y="455.34" width="3.40" height="19.26"/><rect x="87.32" y="453.64" width="3.40" height="20.96"/><rect x="90.72" y="447.55" width="3.40" height="27.05"/><rect x="94.12" y="442.31" width="3.40" height="32.29"/><rect x="97.51" y="437.42" width="3.40" height="37.18"/><rect x="100.91" y="433.51" width="3.40" height="41.09"/><rect x="104.31" y="426.23" width="3.40" height="48.37"/><rect x="107.71" y="422.92" width="3.40" height="51.68"/><rect x="111.10" y="416.35" width="3.40" height="58.25"/><rect x="114.50" y="408.49" width="3.40" height="66.11"/><rect x="117.90" y="406.94" width="3.40" height="67.66"/><rect x="121.30" y="400.47" width="3.40" height="74.13"/><rect x="124.69" y="388.70" width="3.40" height="85.90"/><rect x="128.09" y="389.28" width="3.40" height="85.32"/><rect x="131.49" y="393.73" width="3.40" height="80.87"/><rect x="134.89" y="387.26" width="3.40" height="87.34"/><rect x="138.28" y="383.39" width="3.40" height="91.21"/><rect x="141.68" y="380.44" width="3.40" height="94.16"/><rect x="145.08" y="384.78" width="3.40" height="89.82"/><rect x="148.48" y="388.38" width="3.40" height="86.22"/><rect x="151.87" y="390.80" width="3.40" height="83.80"/><rect x="155.27" y="388.55" width="3.40" height="86.05"/><rect x="158.67" y="392.88" width="3.40" height="81.72"/><rect x="162.07" y="399.54" width="3.40" height="75.06"/><rect x="165.46" y="403.55" width="3.40" height="71.05"/><rect x="168.86" y="409.55" width="3.40" height="65.05"/><rect x="172.26" y="411.83" width="3.40" height="62.77"/><rect x="175.66" y="419.90" width="3.40" height="54.70"/><rect x="179.05" y="421.70" width="3.40" height="52.90"/><rect x="182.45" y="425.08" width="3.40" height="49.52"/><rect x="185.85" y="429.65" width="3.40" height="44.95"/><rect x="189.24" y="435.70" width="3.40" height="38.90"/><rect x="192.64" y="436.40" width="3.40" height="38.20"/><rect x="196.04" y="443.19" width="3.40" height="31.41"/><rect x="199.44" y="445.56" width="3.40" height="29.04"/><rect x="202.83" y="450.11" width="3.40" height="24.49"/><rect x="206.23" y="453.87" width="3.40" height="20.73"/><rect x="209.63" y="454.90" width="3.40" height="19.70"/><rect x="213.03" y="457.36" width="3.40" height="17.24"/><rect x="216.42" y="459.76" width="3.40" height="14.84"/><rect x="219.82" y="461.56" width="3.40" height="13.04"/><rect x="223.22" y="463.83" width="3.40" height="10.77"/><rect x="226.62" y="465.39" width="3.40" height="9.21"/><rect x="230.01" y="466.43" width="3.40" height="8.17"/><rect x="233.41" y="466.78" width="3.40" height="7.82"/><rect x="236.81" y="467.87" width="3.40" height="6.73"/><rect x="240.21" y="468.85" width="3.40" height="5.75"/><rect x="243.60" y="469.30" width="3.40" height="5.30"/><rect x="247.00" y="470.28" width="3.40" height="4.32"/><rect x="250.40" y="471.04" width="3.40" height="3.56"/><rect x="253.80" y="471.54" width="3.40" height="3.06"/><rect x="257.19" y="472.25" width="3.40" height="2.35"/><rect x="260.59" y="472.73" width="3.40" height="1.87"/><rect x="263.99" y="472.93" width="3.40" height="1.67"/><rect x="267.39" y="473.07" width="3.40" height="1.53"/><rect x="270.78" y="473.24" width="3.40" height="1.36"/><rect x="274.18" y="473.33" width="3.40" height="1.27"/><rect x="277.58" y="473.55" width="3.40" height="1.05"/><rect x="280.97" y="473.60" width="3.40" height="1.00"/><rect x="284.37" y="473.72" width="3.40" height="0.88"/><rect x="287.77" y="473.83" width="3.40" height="0.77"/><rect x="291.17" y="473.87" width="3.40" height="0.73"/><rect x="294.56" y="473.94" width="3.40" height="0.66"/><rect x="297.96" y="474.02" width="3.40" height="0.58"/><rect x="301.36" y="474.01" width="3.40" height="0.59"/><rect x="304.76" y="474.10" width="3.40" height="0.50"/><rect x="308.15" y="474.10" width="3.40" height="0.50"/><rect x="311.55" y="474.13" width="3.40" height="0.47"/><rect x="314.95" y="474.15" width="3.40" height="0.45"/><rect x="318.35" y="474.20" width="3.40" height="0.40"/><rect x="321.74" y="474.20" width="3.40" height="0.40"/><rect x="325.14" y="474.22" width="3.40" height="0.38"/><rect x="328.54" y="474.22" width="3.40" height="0.38"/><rect x="331.94" y="474.26" width="3.40" height="0.34"/><rect x="335.33" y="474.27" width="3.40" height="0.33"/><rect x="338.73" y="474.29" width="3.40" height="0.31"/><rect x="342.13" y="474.31" width="3.40" height="0.29"/><rect x="345.53" y="474.28" width="3.40" height="0.32"/><rect x="348.92" y="474.32" width="3.40" height="0.28"/><rect x="352.32" y="474.34" width="3.40" height="0.26"/><rect x="355.72" y="474.32" width="3.40" height="0.28"/><rect x="359.12" y="474.36" width="3.40" height="0.24"/><rect x="362.51" y="474.35" width="3.40" height="0.25"/><rect x="365.91" y="474.35" width="3.40" height="0.25"/><rect x="369.31" y="474.38" width="3.40" height="0.22"/><rect x="372.70" y="474.38" width="3.40" height="0.22"/><rect x="376.10" y="474.39" width="3.40" height="0.21"/><rect x="379.50" y="474.39" width="3.40" height="0.21"/><rect x="382.90" y="474.41" width="3.40" height="0.19"/><rect x="386.29" y="474.41" width="3.40" height="0.19"/><rect x="389.69" y="474.41" width="3.40" height="0.19"/><rect x="393.09" y="474.41" width="3.40" height="0.19"/><rect x="396.49" y="474.42" width="3.40" height="0.18"/><rect x="399.88" y="474.42" width="3.40" height="0.18"/><rect x="403.28" y="474.43" width="3.40" height="0.17"/><rect x="406.68" y="474.44" width="3.40" height="0.16"/></g>
<path d="M57.79,474.51 L58.97,474.47 L60.16,474.40 L61.34,474.32 L62.52,474.21 L63.70,474.09 L64.89,473.96 L66.07,473.83 L67.25,473.71 L68.43,473.59 L69.62,473.48 L70.80,473.37 L71.98,473.24 L73.16,473.10 L74.35,472.95 L75.53,472.77 L76.71,472.57 L77.89,472.34 L79.08,472.09 L80.26,471.80 L81.44,471.48 L82.62,471.13 L83.81,470.75 L84.99,470.34 L86.17,469.90 L87.35,469.42 L88.54,468.90 L89.72,468.33 L90.90,467.72 L92.08,467.04 L93.27,466.31 L94.45,465.53 L95.63,464.69 L96.81,463.80 L97.99,462.86 L99.18,461.86 L100.36,460.80 L101.54,459.67 L102.72,458.46 L103.91,457.15 L105.09,455.75 L106.27,454.25 L107.45,452.67 L108.64,451.01 L109.82,449.27 L111.00,447.49 L112.18,445.66 L113.37,443.81 L114.55,441.98 L115.73,440.17 L116.91,438.39 L118.10,436.64 L119.28,434.91 L120.46,433.19 L121.64,431.45 L122.83,429.69 L124.01,427.90 L125.19,426.06 L126.37,424.17 L127.56,422.25 L128.74,420.31 L129.92,418.39 L131.10,416.51 L132.29,414.70 L133.47,413.01 L134.65,411.44 L135.83,410.01 L137.02,408.71 L138.20,407.53 L139.38,406.43 L140.56,405.41 L141.74,404.42 L142.93,403.46 L144.11,402.52 L145.29,401.60 L146.47,400.68 L147.66,399.79 L148.84,398.94 L150.02,398.14 L151.20,397.43 L152.39,396.81 L153.57,396.29 L154.75,395.87 L155.93,395.54 L157.12,395.33 L158.30,395.22 L159.48,395.20 L160.66,395.25 L161.85,395.36 L163.03,395.50 L164.21,395.68 L165.39,395.88 L166.58,396.10 L167.76,396.34 L168.94,396.57 L170.12,396.81 L171.31,397.05 L172.49,397.29 L173.67,397.57 L174.85,397.91 L176.04,398.35 L177.22,398.90 L178.40,399.57 L179.58,400.37 L180.77,401.28 L181.95,402.27 L183.13,403.35 L184.31,404.49 L185.49,405.67 L186.68,406.87 L187.86,408.07 L189.04,409.26 L190.22,410.44 L191.41,411.65 L192.59,412.90 L193.77,414.22 L194.95,415.61 L196.14,417.05 L197.32,418.48 L198.50,419.88 L199.68,421.20 L200.87,422.44 L202.05,423.62 L203.23,424.73 L204.41,425.82 L205.60,426.89 L206.78,427.96 L207.96,429.05 L209.14,430.16 L210.33,431.30 L211.51,432.45 L212.69,433.63 L213.87,434.82 L215.06,436.01 L216.24,437.22 L217.42,438.43 L218.60,439.65 L219.79,440.86 L220.97,442.06 L222.15,443.25 L223.33,444.41 L224.52,445.53 L225.70,446.60 L226.88,447.60 L228.06,448.54 L229.25,449.43 L230.43,450.27 L231.61,451.07 L232.79,451.84 L233.97,452.56 L235.16,453.25 L236.34,453.90 L237.52,454.51 L238.70,455.08 L239.89,455.61 L241.07,456.12 L242.25,456.61 L243.43,457.10 L244.62,457.61 L245.80,458.13 L246.98,458.68 L248.16,459.24 L249.35,459.81 L250.53,460.40 L251.71,460.98 L252.89,461.56 L254.08,462.14 L255.26,462.72 L256.44,463.29 L257.62,463.83 L258.81,464.35 L259.99,464.83 L261.17,465.27 L262.35,465.67 L263.54,466.04 L264.72,466.38 L265.90,466.69 L267.08,467.00 L268.27,467.29 L269.45,467.59 L270.63,467.87 L271.81,468.15 L273.00,468.42 L274.18,468.68 L275.36,468.92 L276.54,469.15 L277.72,469.36 L278.91,469.55 L280.09,469.73 L281.27,469.90 L282.45,470.07 L283.64,470.23 L284.82,470.39 L286.00,470.56 L287.18,470.72 L288.37,470.89 L289.55,471.05 L290.73,471.20 L291.91,471.35 L293.10,471.50 L294.28,471.63 L295.46,471.76 L296.64,471.88 L297.83,472.00 L299.01,472.11 L300.19,472.23 L301.37,472.34 L302.56,472.45 L303.74,472.56 L304.92,472.67 L306.10,472.78 L307.29,472.87 L308.47,472.96 L309.65,473.04 L310.83,473.11 L312.02,473.18 L313.20,473.24 L314.38,473.30 L315.56,473.36 L316.75,473.42 L317.93,473.48 L319.11,473.54 L320.29,473.60 L321.47,473.66 L322.66,473.72 L323.84,473.77 L325.02,473.81 L326.20,473.85 L327.39,473.88 L328.57,473.91 L329.75,473.94 L330.93,473.96 L332.12,473.99 L333.30,474.01 L334.48,474.03 L335.66,474.06 L336.85,474.07 L338.03,474.09 L339.21,474.11 L340.39,474.13 L341.58,474.14 L342.76,474.16 L343.94,474.17 L345.12,474.18 L346.31,474.19 L347.49,474.20 L348.67,474.21 L349.85,474.22 L351.04,474.23 L352.22,474.24 L353.40,474.25 L354.58,474.26 L355.77,474.26 L356.95,474.27 L358.13,474.28 L359.31,474.29 L360.50,474.30 L361.68,474.30 L362.86,474.31 L364.04,474.32 L365.23,474.33 L366.41,474.33 L367.59,474.34 L368.77,474.35 L369.95,474.35 L371.14,474.36 L372.32,474.37 L373.50,474.37 L374.68,474.38 L375.87,474.39 L377.05,474.39 L378.23,474.40 L379.41,474.40 L380.60,474.41 L381.78,474.41 L382.96,474.42 L384.14,474.42 L385.33,474.43 L386.51,474.43 L387.69,474.44 L388.87,474.44 L390.06,474.45 L391.24,474.45 L392.42,474.45 L393.60,474.46 L394.79,474.46 L395.97,474.46 L397.15,474.47 L398.33,474.47 L399.52,474.47 L400.70,474.47 L401.88,474.48 L403.06,474.48 L404.25,474.48 L405.43,474.48 L406.61,474.48 L407.79,474.48 L408.98,474.48 L410.16,474.48 L411.34,474.48" fill="none" stroke="#2ca02c" stroke-width="2.1" stroke-linejoin="round"/>
<path d="M55.70,472.81 L57.04,472.54 L58.37,472.19 L59.71,471.77 L61.05,471.31 L62.38,470.81 L63.72,470.30 L65.05,469.75 L66.39,469.17 L67.73,468.54 L69.06,467.86 L70.40,467.12 L71.74,466.31 L73.07,465.43 L74.41,464.48 L75.75,463.45 L77.08,462.37 L78.42,461.24 L79.75,460.09 L81.09,458.92 L82.43,457.72 L83.76,456.47 L85.10,455.16 L86.44,453.78 L87.77,452.32 L89.11,450.77 L90.45,449.11 L91.78,447.34 L93.12,445.47 L94.45,443.53 L95.79,441.56 L97.13,439.61 L98.46,437.70 L99.80,435.82 L101.14,433.95 L102.47,432.07 L103.81,430.16 L105.15,428.22 L106.48,426.24 L107.82,424.20 L109.15,422.11 L110.49,419.95 L111.83,417.74 L113.16,415.48 L114.50,413.18 L115.84,410.87 L117.17,408.57 L118.51,406.32 L119.85,404.15 L121.18,402.11 L122.52,400.21 L123.85,398.46 L125.19,396.86 L126.53,395.38 L127.86,394.00 L129.20,392.71 L130.54,391.50 L131.87,390.36 L133.21,389.30 L134.55,388.32 L135.88,387.41 L137.22,386.61 L138.55,385.94 L139.89,385.43 L141.23,385.08 L142.56,384.90 L143.90,384.87 L145.24,385.00 L146.57,385.26 L147.91,385.65 L149.25,386.13 L150.58,386.69 L151.92,387.34 L153.25,388.09 L154.59,388.93 L155.93,389.89 L157.26,390.96 L158.60,392.15 L159.94,393.45 L161.27,394.88 L162.61,396.46 L163.95,398.20 L165.28,400.11 L166.62,402.15 L167.95,404.28 L169.29,406.44 L170.63,408.56 L171.96,410.63 L173.30,412.63 L174.64,414.58 L175.97,416.46 L177.31,418.28 L178.65,420.05 L179.98,421.75 L181.32,423.40 L182.65,424.99 L183.99,426.53 L185.33,428.04 L186.66,429.52 L188.00,431.01 L189.34,432.51 L190.67,434.04 L192.01,435.60 L193.35,437.17 L194.68,438.75 L196.02,440.32 L197.35,441.88 L198.69,443.40 L200.03,444.87 L201.36,446.28 L202.70,447.62 L204.04,448.90 L205.37,450.11 L206.71,451.28 L208.05,452.42 L209.38,453.53 L210.72,454.60 L212.05,455.64 L213.39,456.62 L214.73,457.56 L216.06,458.44 L217.40,459.27 L218.74,460.08 L220.07,460.87 L221.41,461.64 L222.75,462.39 L224.08,463.11 L225.42,463.79 L226.75,464.43 L228.09,465.02 L229.43,465.56 L230.76,466.05 L232.10,466.49 L233.44,466.89 L234.77,467.25 L236.11,467.57 L237.45,467.87 L238.78,468.14 L240.12,468.40 L241.45,468.65 L242.79,468.90 L244.13,469.17 L245.46,469.45 L246.80,469.75 L248.14,470.06 L249.47,470.38 L250.81,470.69 L252.15,470.98 L253.48,471.26 L254.82,471.52 L256.15,471.76 L257.49,471.99 L258.83,472.19 L260.16,472.37 L261.50,472.52 L262.84,472.65 L264.17,472.76 L265.51,472.86 L266.85,472.95 L268.18,473.03 L269.52,473.10 L270.85,473.17 L272.19,473.23 L273.53,473.29 L274.86,473.35 L276.20,473.40 L277.54,473.45 L278.87,473.50 L280.21,473.55 L281.55,473.59 L282.88,473.64 L284.22,473.68 L285.55,473.72 L286.89,473.76 L288.23,473.80 L289.56,473.83 L290.90,473.86 L292.24,473.88 L293.57,473.91 L294.91,473.93 L296.25,473.95 L297.58,473.97 L298.92,473.99 L300.25,474.00 L301.59,474.02 L302.93,474.03 L304.26,474.05 L305.60,474.06 L306.94,474.08 L308.27,474.09 L309.61,474.10 L310.94,474.11 L312.28,474.13 L313.62,474.14 L314.95,474.15 L316.29,474.16 L317.63,474.17 L318.96,474.18 L320.30,474.18 L321.64,474.19 L322.97,474.20 L324.31,474.21 L325.64,474.22 L326.98,474.22 L328.32,474.23 L329.65,474.24 L330.99,474.24 L332.33,474.25 L333.66,474.25 L335.00,474.26 L336.34,474.27 L337.67,474.27 L339.01,474.28 L340.34,474.28 L341.68,474.29 L343.02,474.29 L344.35,474.30 L345.69,474.30 L347.03,474.31 L348.36,474.31 L349.70,474.32 L351.04,474.32 L352.37,474.32 L353.71,474.33 L355.04,474.33 L356.38,474.34 L357.72,474.34 L359.05,474.34 L360.39,474.35 L361.73,474.35 L363.06,474.35 L364.40,474.36 L365.74,474.36 L367.07,474.36 L368.41,474.36 L369.74,474.37 L371.08,474.37 L372.42,474.37 L373.75,474.38 L375.09,474.38 L376.43,474.38 L377.76,474.38 L379.10,474.39 L380.44,474.39 L381.77,474.39 L383.11,474.39 L384.44,474.40 L385.78,474.40 L387.12,474.40 L388.45,474.41 L389.79,474.41 L391.13,474.41 L392.46,474.41 L393.80,474.42 L395.14,474.42 L396.47,474.42 L397.81,474.42 L399.14,474.43 L400.48,474.43 L401.82,474.43 L403.15,474.43 L404.49,474.43 L405.83,474.44 L407.16,474.44 L408.50,474.44 L409.84,474.44 L411.17,474.45 L412.51,474.45 L413.84,474.45 L415.18,474.45 L416.52,474.45 L417.85,474.46 L419.19,474.46 L420.53,474.46 L421.86,474.46 L423.20,474.46 L424.54,474.46 L425.87,474.47 L427.21,474.47 L428.54,474.47 L429.88,474.47 L431.22,474.47 L432.55,474.47 L433.89,474.47 L435.23,474.47 L436.56,474.48 L437.90,474.48 L439.24,474.48 L440.57,474.48 L441.91,474.48 L443.24,474.48 L444.58,474.48 L445.92,474.48 L447.25,474.48 L448.59,474.48 L449.93,474.48 L451.26,474.48 L452.60,474.48 L453.94,474.48 L455.27,474.48" fill="none" stroke="#ff7f0e" stroke-width="2.1" stroke-linejoin="round"/>
</g>
<rect x="55.7" y="378.5" width="418.40000000000003" height="96.10000000000002" fill="none" stroke="#000" stroke-width="1.1"/>
<rect x="58" y="382" width="27.6" height="22.6" fill="#f2f2f2" fill-opacity="0.9"/>
<text x="62.95" y="396.7" font-size="15.3px">(b)</text>
<line x1="55.70" x2="55.70" y1="474.6" y2="479.6" stroke="#000" stroke-width="1.1"/>
<text x="55.70" y="497.3" text-anchor="middle" font-size="15.28px">0.0</text>
<line x1="108.00" x2="108.00" y1="474.6" y2="479.6" stroke="#000" stroke-width="1.1"/>
<text x="108.00" y="497.3" text-anchor="middle" font-size="15.28px">2.5</text>
<line x1="160.30" x2="160.30" y1="474.6" y2="479.6" stroke="#000" stroke-width="1.1"/>
<text x="160.30" y="497.3" text-anchor="middle" font-size="15.28px">5.0</text>
<line x1="212.60" x2="212.60" y1="474.6" y2="479.6" stroke="#000" stroke-width="1.1"/>
<text x="212.60" y="497.3" text-anchor="middle" font-size="15.28px">7.5</text>
<line x1="264.90" x2="264.90" y1="474.6" y2="479.6" stroke="#000" stroke-width="1.1"/>
<text x="264.90" y="497.3" text-anchor="middle" font-size="15.28px">10.0</text>
<line x1="317.20" x2="317.20" y1="474.6" y2="479.6" stroke="#000" stroke-width="1.1"/>
<text x="317.20" y="497.3" text-anchor="middle" font-size="15.28px">12.5</text>
<line x1="369.50" x2="369.50" y1="474.6" y2="479.6" stroke="#000" stroke-width="1.1"/>
<text x="369.50" y="497.3" text-anchor="middle" font-size="15.28px">15.0</text>
<line x1="421.80" x2="421.80" y1="474.6" y2="479.6" stroke="#000" stroke-width="1.1"/>
<text x="421.80" y="497.3" text-anchor="middle" font-size="15.28px">17.5</text>
<line x1="474.10" x2="474.10" y1="474.6" y2="479.6" stroke="#000" stroke-width="1.1"/>
<text x="474.10" y="497.3" text-anchor="middle" font-size="15.28px">20.0</text>
<line x1="50.7" x2="55.7" y1="474.60" y2="474.60" stroke="#000" stroke-width="1.1"/>
<text x="44.5" y="480.00" text-anchor="end" font-size="15.28px">0.0</text>
<line x1="50.7" x2="55.7" y1="435.80" y2="435.80" stroke="#000" stroke-width="1.1"/>
<text x="44.5" y="441.20" text-anchor="end" font-size="15.28px">0.1</text>
<line x1="50.7" x2="55.7" y1="397.00" y2="397.00" stroke="#000" stroke-width="1.1"/>
<text x="44.5" y="402.40" text-anchor="end" font-size="15.28px">0.2</text>
<text transform="translate(15.7,428) rotate(-90)" text-anchor="middle" font-size="15.28px">Density</text>
<text x="265.5" y="519.5" text-anchor="middle" font-size="15.28px">ISOP column [x <tspan font-family="DejaVu Sans, sans-serif">10</tspan><tspan font-family="DejaVu Sans, sans-serif" font-size="10.7px" dy="-6.5" dx="0.3">15</tspan><tspan dy="6.5" dx="0"> molec cm</tspan><tspan font-family="DejaVu Sans, sans-serif" font-size="10.7px" dy="-6.5" dx="1.0">−2</tspan><tspan dy="6.5" dx="0.5">]</tspan></text>
<rect x="245.5" y="385.5" width="220.9" height="47.8" rx="2.8" fill="#fff" fill-opacity="0.8" stroke="#ccc" stroke-width="1.15"/>
<rect x="251.3" y="393" width="30.7" height="10.8" fill="#2ca02c" fill-opacity="0.5" stroke="#000" stroke-opacity="0.55" stroke-width="0.6"/>
<rect x="251.3" y="414.7" width="30.7" height="10.8" fill="#ff7f0e" fill-opacity="0.5" stroke="#000" stroke-opacity="0.55" stroke-width="0.6"/>
<text x="293.8" y="403.1" font-size="15px">With Oil Palms (p &lt; 0.05)</text>
<text x="293.8" y="424.6" font-size="15px">Without Oil Palms</text>
</svg>
</body></html>
